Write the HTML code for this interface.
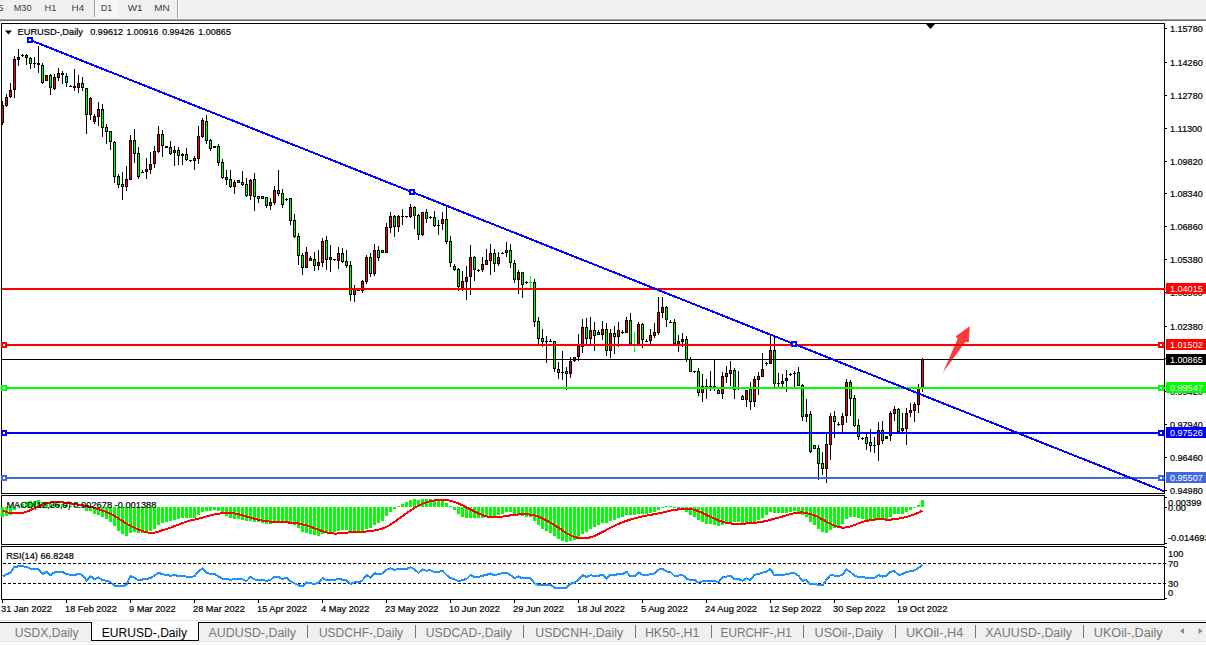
<!DOCTYPE html>
<html><head><meta charset="utf-8"><title>EURUSD-,Daily</title>
<style>
html,body{margin:0;padding:0;background:#fff;}
body{width:1206px;height:645px;overflow:hidden;position:relative;font-family:"Liberation Sans",sans-serif;}
svg{position:absolute;left:0;top:0;display:block}
svg text{font-family:"Liberation Sans",sans-serif;stroke-width:0.2px;}
text.b{stroke:#000}
</style></head><body>
<svg width="1206" height="645" viewBox="0 0 1206 645">
<!-- toolbar -->
<g shape-rendering="crispEdges">
<rect x="0" y="0" width="1206" height="19" fill="#f0f0f0"/>
<rect x="95" y="0" width="24" height="17" fill="#f7f7f7"/>
<rect x="94" y="0" width="1" height="17" fill="#a0a0a0"/>
<rect x="177" y="0" width="1" height="18" fill="#a0a0a0"/><rect x="178" y="0" width="1" height="18" fill="#fff"/>
<rect x="0" y="18" width="1206" height="1" fill="#f4f4f4"/>
<rect x="0" y="19" width="1206" height="1" fill="#a0a0a0"/>
<rect x="0" y="20" width="1206" height="1" fill="#696969"/>
</g>
<g font-size="9.4" fill="#3c3c3c">
<text x="-10" y="11" textLength="13.5" lengthAdjust="spacingAndGlyphs">M5</text><text x="13.7" y="11" textLength="17.8" lengthAdjust="spacingAndGlyphs">M30</text><text x="44.6" y="11" textLength="11.9" lengthAdjust="spacingAndGlyphs">H1</text><text x="71.6" y="11" textLength="12.6" lengthAdjust="spacingAndGlyphs">H4</text><text x="100.9" y="11" textLength="11.4" lengthAdjust="spacingAndGlyphs">D1</text><text x="127.7" y="11" textLength="14.8" lengthAdjust="spacingAndGlyphs">W1</text><text x="154.2" y="11" textLength="15.5" lengthAdjust="spacingAndGlyphs">MN</text>
</g>
<!-- frames -->
<g shape-rendering="crispEdges" fill="none" stroke="#000" stroke-width="1">
<rect x="1.5" y="23.5" width="1163" height="470"/>
<rect x="1.5" y="495.5" width="1163" height="49"/>
<rect x="1.5" y="546.5" width="1163" height="53"/>
</g>
<g shape-rendering="crispEdges">
<rect x="1165" y="28" width="2" height="1" fill="#000"/><rect x="1165" y="62" width="2" height="1" fill="#000"/><rect x="1165" y="95" width="2" height="1" fill="#000"/><rect x="1165" y="128" width="2" height="1" fill="#000"/><rect x="1165" y="161" width="2" height="1" fill="#000"/><rect x="1165" y="193" width="2" height="1" fill="#000"/><rect x="1165" y="226" width="2" height="1" fill="#000"/><rect x="1165" y="259" width="2" height="1" fill="#000"/><rect x="1165" y="292" width="2" height="1" fill="#000"/><rect x="1165" y="326" width="2" height="1" fill="#000"/><rect x="1165" y="358" width="2" height="1" fill="#000"/><rect x="1165" y="391" width="2" height="1" fill="#000"/><rect x="1165" y="424" width="2" height="1" fill="#000"/><rect x="1165" y="457" width="2" height="1" fill="#000"/><rect x="1165" y="490" width="2" height="1" fill="#000"/>
</g>
<!-- candles -->
<g shape-rendering="crispEdges"><rect x="2" y="101" width="1" height="24" fill="#000"/><rect x="1" y="105" width="3" height="18" fill="#000"/><rect x="2" y="106" width="1" height="16" fill="#ff0000"/><rect x="6" y="94" width="1" height="13" fill="#000"/><rect x="5" y="97" width="3" height="9" fill="#000"/><rect x="6" y="98" width="1" height="7" fill="#ff0000"/><rect x="10" y="83" width="1" height="15" fill="#000"/><rect x="9" y="90" width="3" height="7" fill="#000"/><rect x="10" y="91" width="1" height="5" fill="#ff0000"/><rect x="14" y="56" width="1" height="42" fill="#000"/><rect x="13" y="59" width="3" height="31" fill="#000"/><rect x="14" y="60" width="1" height="29" fill="#ff0000"/><rect x="18" y="49" width="1" height="17" fill="#000"/><rect x="17" y="57" width="3" height="3" fill="#000"/><rect x="18" y="58" width="1" height="1" fill="#ff0000"/><rect x="22" y="54" width="1" height="3" fill="#000"/><rect x="21" y="55" width="3" height="1" fill="#000"/><rect x="26" y="54" width="1" height="11" fill="#000"/><rect x="25" y="55" width="3" height="3" fill="#000"/><rect x="26" y="56" width="1" height="1" fill="#00ff00"/><rect x="30" y="57" width="1" height="12" fill="#000"/><rect x="29" y="58" width="3" height="6" fill="#000"/><rect x="30" y="59" width="1" height="4" fill="#00ff00"/><rect x="34" y="57" width="1" height="11" fill="#000"/><rect x="33" y="63" width="3" height="1" fill="#000"/><rect x="38" y="46" width="1" height="27" fill="#000"/><rect x="37" y="63" width="3" height="2" fill="#000"/><rect x="42" y="63" width="1" height="21" fill="#000"/><rect x="41" y="65" width="3" height="18" fill="#000"/><rect x="42" y="66" width="1" height="16" fill="#00ff00"/><rect x="46" y="75" width="1" height="6" fill="#000"/><rect x="45" y="75" width="3" height="6" fill="#000"/><rect x="46" y="76" width="1" height="4" fill="#ff0000"/><rect x="50" y="74" width="1" height="21" fill="#000"/><rect x="49" y="75" width="3" height="13" fill="#000"/><rect x="50" y="76" width="1" height="11" fill="#00ff00"/><rect x="54" y="74" width="1" height="16" fill="#000"/><rect x="53" y="77" width="3" height="12" fill="#000"/><rect x="54" y="78" width="1" height="10" fill="#ff0000"/><rect x="58" y="68" width="1" height="13" fill="#000"/><rect x="57" y="73" width="3" height="5" fill="#000"/><rect x="58" y="74" width="1" height="3" fill="#ff0000"/><rect x="62" y="71" width="1" height="13" fill="#000"/><rect x="61" y="73" width="3" height="2" fill="#000"/><rect x="66" y="73" width="1" height="14" fill="#000"/><rect x="65" y="76" width="3" height="7" fill="#000"/><rect x="66" y="77" width="1" height="5" fill="#00ff00"/><rect x="70" y="85" width="1" height="2" fill="#000"/><rect x="69" y="86" width="3" height="1" fill="#000"/><rect x="74" y="69" width="1" height="22" fill="#000"/><rect x="73" y="86" width="3" height="2" fill="#000"/><rect x="78" y="75" width="1" height="18" fill="#000"/><rect x="77" y="83" width="3" height="5" fill="#000"/><rect x="78" y="84" width="1" height="3" fill="#ff0000"/><rect x="82" y="77" width="1" height="14" fill="#000"/><rect x="81" y="83" width="3" height="5" fill="#000"/><rect x="82" y="84" width="1" height="3" fill="#00ff00"/><rect x="86" y="88" width="1" height="46" fill="#000"/><rect x="85" y="88" width="3" height="27" fill="#000"/><rect x="86" y="89" width="1" height="25" fill="#00ff00"/><rect x="90" y="97" width="1" height="23" fill="#000"/><rect x="89" y="98" width="3" height="17" fill="#000"/><rect x="90" y="99" width="1" height="15" fill="#ff0000"/><rect x="94" y="114" width="1" height="10" fill="#000"/><rect x="93" y="116" width="3" height="6" fill="#000"/><rect x="94" y="117" width="1" height="4" fill="#ff0000"/><rect x="98" y="102" width="1" height="24" fill="#000"/><rect x="97" y="109" width="3" height="8" fill="#000"/><rect x="98" y="110" width="1" height="6" fill="#ff0000"/><rect x="102" y="104" width="1" height="33" fill="#000"/><rect x="101" y="109" width="3" height="19" fill="#000"/><rect x="102" y="110" width="1" height="17" fill="#00ff00"/><rect x="106" y="124" width="1" height="20" fill="#000"/><rect x="105" y="127" width="3" height="5" fill="#000"/><rect x="106" y="128" width="1" height="3" fill="#00ff00"/><rect x="110" y="131" width="1" height="19" fill="#000"/><rect x="109" y="131" width="3" height="11" fill="#000"/><rect x="110" y="132" width="1" height="9" fill="#00ff00"/><rect x="114" y="141" width="1" height="42" fill="#000"/><rect x="113" y="142" width="3" height="35" fill="#000"/><rect x="114" y="143" width="1" height="33" fill="#00ff00"/><rect x="118" y="174" width="1" height="14" fill="#000"/><rect x="117" y="176" width="3" height="9" fill="#000"/><rect x="118" y="177" width="1" height="7" fill="#00ff00"/><rect x="122" y="172" width="1" height="28" fill="#000"/><rect x="121" y="184" width="3" height="3" fill="#000"/><rect x="122" y="185" width="1" height="1" fill="#00ff00"/><rect x="126" y="166" width="1" height="25" fill="#000"/><rect x="125" y="179" width="3" height="8" fill="#000"/><rect x="126" y="180" width="1" height="6" fill="#ff0000"/><rect x="130" y="135" width="1" height="45" fill="#000"/><rect x="129" y="140" width="3" height="40" fill="#000"/><rect x="130" y="141" width="1" height="38" fill="#ff0000"/><rect x="134" y="129" width="1" height="34" fill="#000"/><rect x="133" y="140" width="3" height="14" fill="#000"/><rect x="134" y="141" width="1" height="12" fill="#00ff00"/><rect x="138" y="147" width="1" height="32" fill="#000"/><rect x="137" y="153" width="3" height="24" fill="#000"/><rect x="138" y="154" width="1" height="22" fill="#00ff00"/><rect x="142" y="170" width="1" height="3" fill="#000"/><rect x="141" y="172" width="3" height="1" fill="#000"/><rect x="146" y="158" width="1" height="21" fill="#000"/><rect x="145" y="169" width="3" height="3" fill="#000"/><rect x="146" y="170" width="1" height="1" fill="#ff0000"/><rect x="150" y="152" width="1" height="22" fill="#000"/><rect x="149" y="164" width="3" height="6" fill="#000"/><rect x="150" y="165" width="1" height="4" fill="#ff0000"/><rect x="154" y="146" width="1" height="22" fill="#000"/><rect x="153" y="151" width="3" height="13" fill="#000"/><rect x="154" y="152" width="1" height="11" fill="#ff0000"/><rect x="158" y="126" width="1" height="27" fill="#000"/><rect x="157" y="134" width="3" height="18" fill="#000"/><rect x="158" y="135" width="1" height="16" fill="#ff0000"/><rect x="162" y="130" width="1" height="27" fill="#000"/><rect x="161" y="134" width="3" height="12" fill="#000"/><rect x="162" y="135" width="1" height="10" fill="#00ff00"/><rect x="166" y="146" width="1" height="2" fill="#000"/><rect x="165" y="146" width="3" height="2" fill="#000"/><rect x="170" y="141" width="1" height="14" fill="#000"/><rect x="169" y="147" width="3" height="7" fill="#000"/><rect x="170" y="148" width="1" height="5" fill="#00ff00"/><rect x="174" y="146" width="1" height="20" fill="#000"/><rect x="173" y="150" width="3" height="3" fill="#000"/><rect x="174" y="151" width="1" height="1" fill="#ff0000"/><rect x="178" y="147" width="1" height="18" fill="#000"/><rect x="177" y="150" width="3" height="6" fill="#000"/><rect x="178" y="151" width="1" height="4" fill="#00ff00"/><rect x="182" y="153" width="1" height="12" fill="#000"/><rect x="181" y="154" width="3" height="2" fill="#000"/><rect x="186" y="148" width="1" height="13" fill="#000"/><rect x="185" y="154" width="3" height="6" fill="#000"/><rect x="186" y="155" width="1" height="4" fill="#00ff00"/><rect x="190" y="160" width="1" height="2" fill="#000"/><rect x="189" y="160" width="3" height="1" fill="#000"/><rect x="194" y="156" width="1" height="14" fill="#000"/><rect x="193" y="158" width="3" height="3" fill="#000"/><rect x="194" y="159" width="1" height="1" fill="#ff0000"/><rect x="198" y="126" width="1" height="38" fill="#000"/><rect x="197" y="136" width="3" height="23" fill="#000"/><rect x="198" y="137" width="1" height="21" fill="#ff0000"/><rect x="202" y="118" width="1" height="20" fill="#000"/><rect x="201" y="120" width="3" height="17" fill="#000"/><rect x="202" y="121" width="1" height="15" fill="#ff0000"/><rect x="206" y="115" width="1" height="29" fill="#000"/><rect x="205" y="121" width="3" height="20" fill="#000"/><rect x="206" y="122" width="1" height="18" fill="#00ff00"/><rect x="210" y="139" width="1" height="12" fill="#000"/><rect x="209" y="140" width="3" height="9" fill="#000"/><rect x="210" y="141" width="1" height="7" fill="#00ff00"/><rect x="214" y="146" width="1" height="2" fill="#000"/><rect x="213" y="146" width="3" height="2" fill="#000"/><rect x="218" y="144" width="1" height="22" fill="#000"/><rect x="217" y="146" width="3" height="17" fill="#000"/><rect x="218" y="147" width="1" height="15" fill="#00ff00"/><rect x="222" y="159" width="1" height="20" fill="#000"/><rect x="221" y="162" width="3" height="16" fill="#000"/><rect x="222" y="163" width="1" height="14" fill="#00ff00"/><rect x="226" y="170" width="1" height="15" fill="#000"/><rect x="225" y="177" width="3" height="3" fill="#000"/><rect x="226" y="178" width="1" height="1" fill="#00ff00"/><rect x="230" y="170" width="1" height="18" fill="#000"/><rect x="229" y="179" width="3" height="8" fill="#000"/><rect x="230" y="180" width="1" height="6" fill="#00ff00"/><rect x="234" y="180" width="1" height="14" fill="#000"/><rect x="233" y="182" width="3" height="5" fill="#000"/><rect x="234" y="183" width="1" height="3" fill="#ff0000"/><rect x="238" y="180" width="1" height="3" fill="#000"/><rect x="237" y="180" width="3" height="3" fill="#000"/><rect x="238" y="181" width="1" height="1" fill="#00ff00"/><rect x="242" y="171" width="1" height="15" fill="#000"/><rect x="241" y="182" width="3" height="3" fill="#000"/><rect x="242" y="183" width="1" height="1" fill="#00ff00"/><rect x="246" y="178" width="1" height="19" fill="#000"/><rect x="245" y="184" width="3" height="12" fill="#000"/><rect x="246" y="185" width="1" height="10" fill="#00ff00"/><rect x="250" y="179" width="1" height="21" fill="#000"/><rect x="249" y="180" width="3" height="16" fill="#000"/><rect x="250" y="181" width="1" height="14" fill="#ff0000"/><rect x="254" y="173" width="1" height="38" fill="#000"/><rect x="253" y="179" width="3" height="18" fill="#000"/><rect x="254" y="180" width="1" height="16" fill="#00ff00"/><rect x="258" y="196" width="1" height="7" fill="#000"/><rect x="257" y="196" width="3" height="3" fill="#000"/><rect x="258" y="197" width="1" height="1" fill="#00ff00"/><rect x="262" y="196" width="1" height="3" fill="#000"/><rect x="261" y="196" width="3" height="3" fill="#000"/><rect x="262" y="197" width="1" height="1" fill="#00ff00"/><rect x="266" y="197" width="1" height="11" fill="#000"/><rect x="265" y="197" width="3" height="9" fill="#000"/><rect x="266" y="198" width="1" height="7" fill="#00ff00"/><rect x="270" y="198" width="1" height="12" fill="#000"/><rect x="269" y="202" width="3" height="4" fill="#000"/><rect x="270" y="203" width="1" height="2" fill="#ff0000"/><rect x="274" y="186" width="1" height="19" fill="#000"/><rect x="273" y="190" width="3" height="13" fill="#000"/><rect x="274" y="191" width="1" height="11" fill="#ff0000"/><rect x="278" y="170" width="1" height="26" fill="#000"/><rect x="277" y="190" width="3" height="4" fill="#000"/><rect x="278" y="191" width="1" height="2" fill="#00ff00"/><rect x="282" y="189" width="1" height="19" fill="#000"/><rect x="281" y="193" width="3" height="12" fill="#000"/><rect x="282" y="194" width="1" height="10" fill="#00ff00"/><rect x="286" y="198" width="1" height="3" fill="#000"/><rect x="285" y="199" width="3" height="1" fill="#000"/><rect x="290" y="198" width="1" height="27" fill="#000"/><rect x="289" y="198" width="3" height="23" fill="#000"/><rect x="290" y="199" width="1" height="21" fill="#00ff00"/><rect x="294" y="214" width="1" height="24" fill="#000"/><rect x="293" y="220" width="3" height="17" fill="#000"/><rect x="294" y="221" width="1" height="15" fill="#00ff00"/><rect x="298" y="233" width="1" height="32" fill="#000"/><rect x="297" y="236" width="3" height="20" fill="#000"/><rect x="298" y="237" width="1" height="18" fill="#00ff00"/><rect x="302" y="253" width="1" height="22" fill="#000"/><rect x="301" y="255" width="3" height="13" fill="#000"/><rect x="302" y="256" width="1" height="11" fill="#00ff00"/><rect x="306" y="247" width="1" height="21" fill="#000"/><rect x="305" y="252" width="3" height="16" fill="#000"/><rect x="306" y="253" width="1" height="14" fill="#ff0000"/><rect x="310" y="256" width="1" height="5" fill="#000"/><rect x="309" y="258" width="3" height="3" fill="#000"/><rect x="310" y="259" width="1" height="1" fill="#00ff00"/><rect x="314" y="252" width="1" height="19" fill="#000"/><rect x="313" y="259" width="3" height="7" fill="#000"/><rect x="314" y="260" width="1" height="5" fill="#00ff00"/><rect x="318" y="250" width="1" height="20" fill="#000"/><rect x="317" y="262" width="3" height="4" fill="#000"/><rect x="318" y="263" width="1" height="2" fill="#ff0000"/><rect x="322" y="238" width="1" height="29" fill="#000"/><rect x="321" y="241" width="3" height="22" fill="#000"/><rect x="322" y="242" width="1" height="20" fill="#ff0000"/><rect x="326" y="236" width="1" height="34" fill="#000"/><rect x="325" y="240" width="3" height="20" fill="#000"/><rect x="326" y="241" width="1" height="18" fill="#00ff00"/><rect x="330" y="245" width="1" height="27" fill="#000"/><rect x="329" y="257" width="3" height="3" fill="#000"/><rect x="330" y="258" width="1" height="1" fill="#ff0000"/><rect x="334" y="259" width="1" height="2" fill="#000"/><rect x="333" y="259" width="3" height="1" fill="#000"/><rect x="338" y="247" width="1" height="22" fill="#000"/><rect x="337" y="253" width="3" height="8" fill="#000"/><rect x="338" y="254" width="1" height="6" fill="#ff0000"/><rect x="342" y="248" width="1" height="15" fill="#000"/><rect x="341" y="253" width="3" height="9" fill="#000"/><rect x="342" y="254" width="1" height="7" fill="#00ff00"/><rect x="346" y="250" width="1" height="18" fill="#000"/><rect x="345" y="261" width="3" height="5" fill="#000"/><rect x="346" y="262" width="1" height="3" fill="#00ff00"/><rect x="350" y="261" width="1" height="40" fill="#000"/><rect x="349" y="265" width="3" height="30" fill="#000"/><rect x="350" y="266" width="1" height="28" fill="#00ff00"/><rect x="354" y="285" width="1" height="17" fill="#000"/><rect x="353" y="288" width="3" height="7" fill="#000"/><rect x="354" y="289" width="1" height="5" fill="#ff0000"/><rect x="358" y="289" width="1" height="2" fill="#000"/><rect x="357" y="290" width="3" height="1" fill="#000"/><rect x="362" y="280" width="1" height="13" fill="#000"/><rect x="361" y="281" width="3" height="10" fill="#000"/><rect x="362" y="282" width="1" height="8" fill="#ff0000"/><rect x="366" y="255" width="1" height="29" fill="#000"/><rect x="365" y="257" width="3" height="25" fill="#000"/><rect x="366" y="258" width="1" height="23" fill="#ff0000"/><rect x="370" y="253" width="1" height="24" fill="#000"/><rect x="369" y="257" width="3" height="17" fill="#000"/><rect x="370" y="258" width="1" height="15" fill="#00ff00"/><rect x="374" y="244" width="1" height="32" fill="#000"/><rect x="373" y="250" width="3" height="24" fill="#000"/><rect x="374" y="251" width="1" height="22" fill="#ff0000"/><rect x="378" y="246" width="1" height="15" fill="#000"/><rect x="377" y="250" width="3" height="8" fill="#000"/><rect x="378" y="251" width="1" height="6" fill="#00ff00"/><rect x="382" y="250" width="1" height="3" fill="#000"/><rect x="381" y="250" width="3" height="3" fill="#000"/><rect x="382" y="251" width="1" height="1" fill="#00ff00"/><rect x="386" y="223" width="1" height="30" fill="#000"/><rect x="385" y="227" width="3" height="26" fill="#000"/><rect x="386" y="228" width="1" height="24" fill="#ff0000"/><rect x="390" y="212" width="1" height="21" fill="#000"/><rect x="389" y="216" width="3" height="12" fill="#000"/><rect x="390" y="217" width="1" height="10" fill="#ff0000"/><rect x="394" y="215" width="1" height="22" fill="#000"/><rect x="393" y="216" width="3" height="11" fill="#000"/><rect x="394" y="217" width="1" height="9" fill="#00ff00"/><rect x="398" y="215" width="1" height="17" fill="#000"/><rect x="397" y="216" width="3" height="11" fill="#000"/><rect x="398" y="217" width="1" height="9" fill="#ff0000"/><rect x="402" y="209" width="1" height="16" fill="#000"/><rect x="401" y="216" width="3" height="1" fill="#000"/><rect x="406" y="216" width="1" height="2" fill="#000"/><rect x="405" y="216" width="3" height="1" fill="#000"/><rect x="410" y="204" width="1" height="14" fill="#000"/><rect x="409" y="207" width="3" height="10" fill="#000"/><rect x="410" y="208" width="1" height="8" fill="#ff0000"/><rect x="414" y="206" width="1" height="23" fill="#000"/><rect x="413" y="207" width="3" height="9" fill="#000"/><rect x="414" y="208" width="1" height="7" fill="#00ff00"/><rect x="418" y="214" width="1" height="26" fill="#000"/><rect x="417" y="215" width="3" height="20" fill="#000"/><rect x="418" y="216" width="1" height="18" fill="#00ff00"/><rect x="422" y="212" width="1" height="24" fill="#000"/><rect x="421" y="212" width="3" height="23" fill="#000"/><rect x="422" y="213" width="1" height="21" fill="#ff0000"/><rect x="426" y="209" width="1" height="14" fill="#000"/><rect x="425" y="212" width="3" height="7" fill="#000"/><rect x="426" y="213" width="1" height="5" fill="#00ff00"/><rect x="430" y="216" width="1" height="3" fill="#000"/><rect x="429" y="217" width="3" height="1" fill="#000"/><rect x="434" y="211" width="1" height="16" fill="#000"/><rect x="433" y="217" width="3" height="9" fill="#000"/><rect x="434" y="218" width="1" height="7" fill="#00ff00"/><rect x="438" y="220" width="1" height="15" fill="#000"/><rect x="437" y="225" width="3" height="1" fill="#000"/><rect x="442" y="212" width="1" height="18" fill="#000"/><rect x="441" y="219" width="3" height="5" fill="#000"/><rect x="442" y="220" width="1" height="3" fill="#ff0000"/><rect x="446" y="207" width="1" height="37" fill="#000"/><rect x="445" y="219" width="3" height="23" fill="#000"/><rect x="446" y="220" width="1" height="21" fill="#00ff00"/><rect x="450" y="236" width="1" height="31" fill="#000"/><rect x="449" y="241" width="3" height="22" fill="#000"/><rect x="450" y="242" width="1" height="20" fill="#00ff00"/><rect x="454" y="264" width="1" height="7" fill="#000"/><rect x="453" y="266" width="3" height="4" fill="#000"/><rect x="454" y="267" width="1" height="2" fill="#00ff00"/><rect x="458" y="268" width="1" height="23" fill="#000"/><rect x="457" y="269" width="3" height="18" fill="#000"/><rect x="458" y="270" width="1" height="16" fill="#00ff00"/><rect x="462" y="271" width="1" height="20" fill="#000"/><rect x="461" y="281" width="3" height="7" fill="#000"/><rect x="462" y="282" width="1" height="5" fill="#ff0000"/><rect x="466" y="266" width="1" height="34" fill="#000"/><rect x="465" y="277" width="3" height="5" fill="#000"/><rect x="466" y="278" width="1" height="3" fill="#ff0000"/><rect x="470" y="245" width="1" height="50" fill="#000"/><rect x="469" y="257" width="3" height="20" fill="#000"/><rect x="470" y="258" width="1" height="18" fill="#ff0000"/><rect x="474" y="256" width="1" height="25" fill="#000"/><rect x="473" y="257" width="3" height="13" fill="#000"/><rect x="474" y="258" width="1" height="11" fill="#00ff00"/><rect x="478" y="269" width="1" height="3" fill="#000"/><rect x="477" y="270" width="3" height="1" fill="#000"/><rect x="482" y="257" width="1" height="15" fill="#000"/><rect x="481" y="264" width="3" height="6" fill="#000"/><rect x="482" y="265" width="1" height="4" fill="#ff0000"/><rect x="486" y="249" width="1" height="16" fill="#000"/><rect x="485" y="260" width="3" height="5" fill="#000"/><rect x="486" y="261" width="1" height="3" fill="#ff0000"/><rect x="490" y="244" width="1" height="31" fill="#000"/><rect x="489" y="253" width="3" height="8" fill="#000"/><rect x="490" y="254" width="1" height="6" fill="#ff0000"/><rect x="494" y="249" width="1" height="23" fill="#000"/><rect x="493" y="253" width="3" height="11" fill="#000"/><rect x="494" y="254" width="1" height="9" fill="#00ff00"/><rect x="498" y="252" width="1" height="14" fill="#000"/><rect x="497" y="257" width="3" height="7" fill="#000"/><rect x="498" y="258" width="1" height="5" fill="#ff0000"/><rect x="502" y="252" width="1" height="2" fill="#000"/><rect x="501" y="253" width="3" height="1" fill="#000"/><rect x="506" y="242" width="1" height="15" fill="#000"/><rect x="505" y="250" width="3" height="3" fill="#000"/><rect x="506" y="251" width="1" height="1" fill="#ff0000"/><rect x="510" y="244" width="1" height="24" fill="#000"/><rect x="509" y="250" width="3" height="13" fill="#000"/><rect x="510" y="251" width="1" height="11" fill="#00ff00"/><rect x="514" y="260" width="1" height="23" fill="#000"/><rect x="513" y="263" width="3" height="17" fill="#000"/><rect x="514" y="264" width="1" height="15" fill="#00ff00"/><rect x="518" y="270" width="1" height="24" fill="#000"/><rect x="517" y="272" width="3" height="8" fill="#000"/><rect x="518" y="273" width="1" height="6" fill="#ff0000"/><rect x="522" y="272" width="1" height="26" fill="#000"/><rect x="521" y="272" width="3" height="13" fill="#000"/><rect x="522" y="273" width="1" height="11" fill="#00ff00"/><rect x="526" y="281" width="1" height="3" fill="#000"/><rect x="525" y="282" width="3" height="1" fill="#000"/><rect x="530" y="276" width="1" height="12" fill="#00ff00"/><rect x="529" y="282" width="3" height="1" fill="#00ff00"/><rect x="534" y="279" width="1" height="48" fill="#000"/><rect x="533" y="282" width="3" height="40" fill="#000"/><rect x="534" y="283" width="1" height="38" fill="#00ff00"/><rect x="538" y="317" width="1" height="27" fill="#000"/><rect x="537" y="321" width="3" height="18" fill="#000"/><rect x="538" y="322" width="1" height="16" fill="#00ff00"/><rect x="542" y="329" width="1" height="18" fill="#000"/><rect x="541" y="338" width="3" height="4" fill="#000"/><rect x="542" y="339" width="1" height="2" fill="#00ff00"/><rect x="546" y="336" width="1" height="27" fill="#000"/><rect x="545" y="341" width="3" height="1" fill="#000"/><rect x="550" y="339" width="1" height="3" fill="#000"/><rect x="549" y="341" width="3" height="1" fill="#000"/><rect x="554" y="341" width="1" height="31" fill="#000"/><rect x="553" y="341" width="3" height="28" fill="#000"/><rect x="554" y="342" width="1" height="26" fill="#00ff00"/><rect x="558" y="362" width="1" height="17" fill="#000"/><rect x="557" y="369" width="3" height="4" fill="#000"/><rect x="558" y="370" width="1" height="2" fill="#00ff00"/><rect x="562" y="351" width="1" height="29" fill="#000"/><rect x="561" y="372" width="3" height="1" fill="#000"/><rect x="566" y="367" width="1" height="23" fill="#000"/><rect x="565" y="371" width="3" height="3" fill="#000"/><rect x="566" y="372" width="1" height="1" fill="#00ff00"/><rect x="570" y="357" width="1" height="21" fill="#000"/><rect x="569" y="361" width="3" height="13" fill="#000"/><rect x="570" y="362" width="1" height="11" fill="#ff0000"/><rect x="574" y="357" width="1" height="5" fill="#000"/><rect x="573" y="357" width="3" height="4" fill="#000"/><rect x="574" y="358" width="1" height="2" fill="#ff0000"/><rect x="578" y="334" width="1" height="27" fill="#000"/><rect x="577" y="346" width="3" height="11" fill="#000"/><rect x="578" y="347" width="1" height="9" fill="#ff0000"/><rect x="582" y="319" width="1" height="34" fill="#000"/><rect x="581" y="327" width="3" height="20" fill="#000"/><rect x="582" y="328" width="1" height="18" fill="#ff0000"/><rect x="586" y="318" width="1" height="26" fill="#000"/><rect x="585" y="327" width="3" height="12" fill="#000"/><rect x="586" y="328" width="1" height="10" fill="#00ff00"/><rect x="590" y="317" width="1" height="27" fill="#000"/><rect x="589" y="330" width="3" height="9" fill="#000"/><rect x="590" y="331" width="1" height="7" fill="#ff0000"/><rect x="594" y="322" width="1" height="29" fill="#000"/><rect x="593" y="330" width="3" height="6" fill="#000"/><rect x="594" y="331" width="1" height="4" fill="#00ff00"/><rect x="598" y="330" width="1" height="5" fill="#000"/><rect x="597" y="332" width="3" height="3" fill="#000"/><rect x="598" y="333" width="1" height="1" fill="#00ff00"/><rect x="602" y="321" width="1" height="19" fill="#000"/><rect x="601" y="329" width="3" height="6" fill="#000"/><rect x="602" y="330" width="1" height="4" fill="#ff0000"/><rect x="606" y="323" width="1" height="33" fill="#000"/><rect x="605" y="329" width="3" height="22" fill="#000"/><rect x="606" y="330" width="1" height="20" fill="#00ff00"/><rect x="610" y="329" width="1" height="29" fill="#000"/><rect x="609" y="333" width="3" height="18" fill="#000"/><rect x="610" y="334" width="1" height="16" fill="#ff0000"/><rect x="614" y="326" width="1" height="28" fill="#000"/><rect x="613" y="333" width="3" height="4" fill="#000"/><rect x="614" y="334" width="1" height="2" fill="#00ff00"/><rect x="618" y="322" width="1" height="25" fill="#000"/><rect x="617" y="330" width="3" height="7" fill="#000"/><rect x="618" y="331" width="1" height="5" fill="#ff0000"/><rect x="622" y="330" width="1" height="4" fill="#000"/><rect x="621" y="332" width="3" height="1" fill="#000"/><rect x="626" y="317" width="1" height="16" fill="#000"/><rect x="625" y="320" width="3" height="13" fill="#000"/><rect x="626" y="321" width="1" height="11" fill="#ff0000"/><rect x="630" y="313" width="1" height="31" fill="#000"/><rect x="629" y="320" width="3" height="24" fill="#000"/><rect x="630" y="321" width="1" height="22" fill="#00ff00"/><rect x="634" y="332" width="1" height="20" fill="#00ff00"/><rect x="633" y="344" width="3" height="1" fill="#00ff00"/><rect x="638" y="322" width="1" height="22" fill="#000"/><rect x="637" y="324" width="3" height="20" fill="#000"/><rect x="638" y="325" width="1" height="18" fill="#ff0000"/><rect x="642" y="323" width="1" height="25" fill="#000"/><rect x="641" y="324" width="3" height="16" fill="#000"/><rect x="642" y="325" width="1" height="14" fill="#00ff00"/><rect x="646" y="339" width="1" height="3" fill="#000"/><rect x="645" y="341" width="3" height="1" fill="#000"/><rect x="650" y="329" width="1" height="15" fill="#000"/><rect x="649" y="335" width="3" height="6" fill="#000"/><rect x="650" y="336" width="1" height="4" fill="#ff0000"/><rect x="654" y="323" width="1" height="15" fill="#000"/><rect x="653" y="332" width="3" height="4" fill="#000"/><rect x="654" y="333" width="1" height="2" fill="#ff0000"/><rect x="658" y="297" width="1" height="38" fill="#000"/><rect x="657" y="312" width="3" height="21" fill="#000"/><rect x="658" y="313" width="1" height="19" fill="#ff0000"/><rect x="662" y="297" width="1" height="21" fill="#000"/><rect x="661" y="307" width="3" height="6" fill="#000"/><rect x="662" y="308" width="1" height="4" fill="#ff0000"/><rect x="666" y="306" width="1" height="21" fill="#000"/><rect x="665" y="307" width="3" height="13" fill="#000"/><rect x="666" y="308" width="1" height="11" fill="#00ff00"/><rect x="670" y="320" width="1" height="3" fill="#000"/><rect x="669" y="322" width="3" height="1" fill="#000"/><rect x="674" y="319" width="1" height="25" fill="#000"/><rect x="673" y="322" width="3" height="22" fill="#000"/><rect x="674" y="323" width="1" height="20" fill="#00ff00"/><rect x="678" y="335" width="1" height="17" fill="#000"/><rect x="677" y="341" width="3" height="3" fill="#000"/><rect x="678" y="342" width="1" height="1" fill="#ff0000"/><rect x="682" y="333" width="1" height="14" fill="#000"/><rect x="681" y="339" width="3" height="3" fill="#000"/><rect x="682" y="340" width="1" height="1" fill="#ff0000"/><rect x="686" y="336" width="1" height="26" fill="#000"/><rect x="685" y="339" width="3" height="21" fill="#000"/><rect x="686" y="340" width="1" height="19" fill="#00ff00"/><rect x="690" y="357" width="1" height="15" fill="#000"/><rect x="689" y="359" width="3" height="13" fill="#000"/><rect x="690" y="360" width="1" height="11" fill="#00ff00"/><rect x="694" y="371" width="1" height="2" fill="#000"/><rect x="693" y="371" width="3" height="1" fill="#000"/><rect x="698" y="368" width="1" height="28" fill="#000"/><rect x="697" y="371" width="3" height="22" fill="#000"/><rect x="698" y="372" width="1" height="20" fill="#00ff00"/><rect x="702" y="374" width="1" height="28" fill="#000"/><rect x="701" y="386" width="3" height="7" fill="#000"/><rect x="702" y="387" width="1" height="5" fill="#ff0000"/><rect x="706" y="379" width="1" height="20" fill="#000"/><rect x="705" y="386" width="3" height="1" fill="#000"/><rect x="710" y="371" width="1" height="20" fill="#000"/><rect x="709" y="386" width="3" height="1" fill="#000"/><rect x="714" y="359" width="1" height="32" fill="#000"/><rect x="713" y="386" width="3" height="1" fill="#000"/><rect x="718" y="389" width="1" height="5" fill="#000"/><rect x="717" y="390" width="3" height="4" fill="#000"/><rect x="718" y="391" width="1" height="2" fill="#00ff00"/><rect x="722" y="372" width="1" height="27" fill="#000"/><rect x="721" y="376" width="3" height="18" fill="#000"/><rect x="722" y="377" width="1" height="16" fill="#ff0000"/><rect x="726" y="366" width="1" height="17" fill="#000"/><rect x="725" y="373" width="3" height="4" fill="#000"/><rect x="726" y="374" width="1" height="2" fill="#ff0000"/><rect x="730" y="361" width="1" height="25" fill="#000"/><rect x="729" y="370" width="3" height="4" fill="#000"/><rect x="730" y="371" width="1" height="2" fill="#ff0000"/><rect x="734" y="368" width="1" height="31" fill="#000"/><rect x="733" y="370" width="3" height="20" fill="#000"/><rect x="734" y="371" width="1" height="18" fill="#00ff00"/><rect x="738" y="371" width="1" height="19" fill="#000"/><rect x="737" y="388" width="3" height="1" fill="#000"/><rect x="742" y="395" width="1" height="5" fill="#000"/><rect x="741" y="396" width="3" height="4" fill="#000"/><rect x="742" y="397" width="1" height="2" fill="#00ff00"/><rect x="746" y="390" width="1" height="17" fill="#000"/><rect x="745" y="390" width="3" height="10" fill="#000"/><rect x="746" y="391" width="1" height="8" fill="#ff0000"/><rect x="750" y="382" width="1" height="28" fill="#000"/><rect x="749" y="389" width="3" height="13" fill="#000"/><rect x="750" y="390" width="1" height="11" fill="#00ff00"/><rect x="754" y="376" width="1" height="31" fill="#000"/><rect x="753" y="379" width="3" height="23" fill="#000"/><rect x="754" y="380" width="1" height="21" fill="#ff0000"/><rect x="758" y="372" width="1" height="23" fill="#000"/><rect x="757" y="376" width="3" height="4" fill="#000"/><rect x="758" y="377" width="1" height="2" fill="#ff0000"/><rect x="762" y="353" width="1" height="24" fill="#000"/><rect x="761" y="369" width="3" height="8" fill="#000"/><rect x="762" y="370" width="1" height="6" fill="#ff0000"/><rect x="766" y="362" width="1" height="4" fill="#000"/><rect x="765" y="363" width="3" height="1" fill="#000"/><rect x="770" y="336" width="1" height="28" fill="#000"/><rect x="769" y="350" width="3" height="14" fill="#000"/><rect x="770" y="351" width="1" height="12" fill="#ff0000"/><rect x="774" y="337" width="1" height="50" fill="#000"/><rect x="773" y="350" width="3" height="34" fill="#000"/><rect x="774" y="351" width="1" height="32" fill="#00ff00"/><rect x="778" y="373" width="1" height="14" fill="#000"/><rect x="777" y="383" width="3" height="1" fill="#000"/><rect x="782" y="374" width="1" height="13" fill="#000"/><rect x="781" y="381" width="3" height="3" fill="#000"/><rect x="782" y="382" width="1" height="1" fill="#ff0000"/><rect x="786" y="370" width="1" height="22" fill="#000"/><rect x="785" y="378" width="3" height="3" fill="#000"/><rect x="786" y="379" width="1" height="1" fill="#ff0000"/><rect x="790" y="373" width="1" height="3" fill="#000"/><rect x="789" y="374" width="3" height="1" fill="#000"/><rect x="794" y="371" width="1" height="16" fill="#000"/><rect x="793" y="373" width="3" height="1" fill="#000"/><rect x="798" y="367" width="1" height="19" fill="#000"/><rect x="797" y="372" width="3" height="14" fill="#000"/><rect x="798" y="373" width="1" height="12" fill="#00ff00"/><rect x="802" y="384" width="1" height="37" fill="#000"/><rect x="801" y="385" width="3" height="32" fill="#000"/><rect x="802" y="386" width="1" height="30" fill="#00ff00"/><rect x="806" y="399" width="1" height="23" fill="#000"/><rect x="805" y="414" width="3" height="3" fill="#000"/><rect x="806" y="415" width="1" height="1" fill="#ff0000"/><rect x="810" y="411" width="1" height="42" fill="#000"/><rect x="809" y="414" width="3" height="38" fill="#000"/><rect x="810" y="415" width="1" height="36" fill="#00ff00"/><rect x="814" y="445" width="1" height="4" fill="#000"/><rect x="813" y="445" width="3" height="4" fill="#000"/><rect x="814" y="446" width="1" height="2" fill="#00ff00"/><rect x="818" y="445" width="1" height="35" fill="#000"/><rect x="817" y="448" width="3" height="16" fill="#000"/><rect x="818" y="449" width="1" height="14" fill="#00ff00"/><rect x="822" y="452" width="1" height="23" fill="#000"/><rect x="821" y="463" width="3" height="6" fill="#000"/><rect x="822" y="464" width="1" height="4" fill="#00ff00"/><rect x="826" y="434" width="1" height="49" fill="#000"/><rect x="825" y="444" width="3" height="25" fill="#000"/><rect x="826" y="445" width="1" height="23" fill="#ff0000"/><rect x="830" y="413" width="1" height="47" fill="#000"/><rect x="829" y="416" width="3" height="29" fill="#000"/><rect x="830" y="417" width="1" height="27" fill="#ff0000"/><rect x="834" y="411" width="1" height="27" fill="#000"/><rect x="833" y="416" width="3" height="6" fill="#000"/><rect x="834" y="417" width="1" height="4" fill="#00ff00"/><rect x="838" y="422" width="1" height="4" fill="#000"/><rect x="837" y="424" width="3" height="1" fill="#000"/><rect x="842" y="413" width="1" height="19" fill="#000"/><rect x="841" y="416" width="3" height="9" fill="#000"/><rect x="842" y="417" width="1" height="7" fill="#ff0000"/><rect x="846" y="379" width="1" height="44" fill="#000"/><rect x="845" y="382" width="3" height="34" fill="#000"/><rect x="846" y="383" width="1" height="32" fill="#ff0000"/><rect x="850" y="380" width="1" height="36" fill="#000"/><rect x="849" y="382" width="3" height="17" fill="#000"/><rect x="850" y="383" width="1" height="15" fill="#00ff00"/><rect x="854" y="395" width="1" height="32" fill="#000"/><rect x="853" y="398" width="3" height="28" fill="#000"/><rect x="854" y="399" width="1" height="26" fill="#00ff00"/><rect x="858" y="419" width="1" height="21" fill="#000"/><rect x="857" y="425" width="3" height="12" fill="#000"/><rect x="858" y="426" width="1" height="10" fill="#00ff00"/><rect x="862" y="437" width="1" height="3" fill="#000"/><rect x="861" y="438" width="3" height="1" fill="#000"/><rect x="866" y="434" width="1" height="16" fill="#000"/><rect x="865" y="437" width="3" height="7" fill="#000"/><rect x="866" y="438" width="1" height="5" fill="#00ff00"/><rect x="870" y="429" width="1" height="23" fill="#000"/><rect x="869" y="442" width="3" height="4" fill="#000"/><rect x="870" y="443" width="1" height="2" fill="#00ff00"/><rect x="874" y="437" width="1" height="16" fill="#000"/><rect x="873" y="445" width="3" height="1" fill="#000"/><rect x="878" y="422" width="1" height="39" fill="#000"/><rect x="877" y="430" width="3" height="15" fill="#000"/><rect x="878" y="431" width="1" height="13" fill="#ff0000"/><rect x="882" y="421" width="1" height="23" fill="#000"/><rect x="881" y="430" width="3" height="11" fill="#000"/><rect x="882" y="431" width="1" height="9" fill="#00ff00"/><rect x="886" y="436" width="1" height="3" fill="#000"/><rect x="885" y="436" width="3" height="3" fill="#000"/><rect x="886" y="437" width="1" height="1" fill="#ff0000"/><rect x="890" y="411" width="1" height="30" fill="#000"/><rect x="889" y="413" width="3" height="23" fill="#000"/><rect x="890" y="414" width="1" height="21" fill="#ff0000"/><rect x="894" y="406" width="1" height="15" fill="#000"/><rect x="893" y="409" width="3" height="5" fill="#000"/><rect x="894" y="410" width="1" height="3" fill="#ff0000"/><rect x="898" y="408" width="1" height="24" fill="#000"/><rect x="897" y="409" width="3" height="23" fill="#000"/><rect x="898" y="410" width="1" height="21" fill="#00ff00"/><rect x="902" y="413" width="1" height="19" fill="#000"/><rect x="901" y="428" width="3" height="3" fill="#000"/><rect x="902" y="429" width="1" height="1" fill="#ff0000"/><rect x="906" y="408" width="1" height="37" fill="#000"/><rect x="905" y="413" width="3" height="16" fill="#000"/><rect x="906" y="414" width="1" height="14" fill="#ff0000"/><rect x="910" y="403" width="1" height="14" fill="#000"/><rect x="909" y="410" width="3" height="3" fill="#000"/><rect x="910" y="411" width="1" height="1" fill="#ff0000"/><rect x="914" y="402" width="1" height="20" fill="#000"/><rect x="913" y="404" width="3" height="7" fill="#000"/><rect x="914" y="405" width="1" height="5" fill="#ff0000"/><rect x="918" y="384" width="1" height="29" fill="#000"/><rect x="917" y="388" width="3" height="17" fill="#000"/><rect x="918" y="389" width="1" height="15" fill="#ff0000"/><rect x="922" y="358" width="1" height="34" fill="#000"/><rect x="921" y="359" width="3" height="29" fill="#000"/><rect x="922" y="360" width="1" height="27" fill="#ff0000"/></g>
<!-- arrow -->
<polygon points="943,372.5 957.7,338.7 955.7,336.2 969.8,326.3 968.8,342.3 965.3,342" fill="#ff3a3a"/>
<!-- horizontal lines -->
<g shape-rendering="crispEdges">
<rect x="2" y="288" width="1163" height="2" fill="#ff0000"/>
<rect x="2" y="344" width="1163" height="2" fill="#ff0000"/>
<rect x="2" y="359" width="1163" height="1" fill="#000"/>
<rect x="2" y="387" width="1163" height="2" fill="#00ff00"/>
<rect x="2" y="432" width="1163" height="2" fill="#0000ff"/>
<rect x="2" y="477" width="1163" height="2" fill="#4169e1"/>
</g>
<!-- handles -->
<g shape-rendering="crispEdges" fill="#fff" stroke-width="2">
<rect x="2" y="343" width="4" height="4" stroke="#ff0000"/><rect x="1159" y="343" width="4" height="4" stroke="#ff0000"/>
<rect x="2" y="386" width="4" height="4" stroke="#00ff00"/><rect x="1159" y="386" width="4" height="4" stroke="#00ff00"/>
<rect x="2" y="431" width="4" height="4" stroke="#0000ff"/><rect x="1159" y="431" width="4" height="4" stroke="#0000ff"/>
<rect x="2" y="476" width="4" height="4" stroke="#4169e1"/><rect x="1159" y="476" width="4" height="4" stroke="#4169e1"/>
</g>
<!-- trend line -->
<line x1="30" y1="40" x2="1164" y2="491.2" stroke="#0000ff" stroke-width="2" shape-rendering="crispEdges"/>
<g shape-rendering="crispEdges" fill="#fff" stroke-width="2" stroke="#0000ff">
<rect x="28" y="38" width="4" height="4"/><rect x="410" y="190" width="4" height="4"/><rect x="792" y="342" width="4" height="4"/>
</g>
<!-- shift marker -->
<polygon points="926,24 935,24 930.5,29" fill="#000"/>
<!-- price labels -->
<text class="b" transform="translate(1170,32.3) scale(0.965,1)" font-size="9.4" fill="#000">1.15780</text><text class="b" transform="translate(1170,66.3) scale(0.965,1)" font-size="9.4" fill="#000">1.14260</text><text class="b" transform="translate(1170,99.3) scale(0.965,1)" font-size="9.4" fill="#000">1.12780</text><text class="b" transform="translate(1170,132.3) scale(0.965,1)" font-size="9.4" fill="#000">1.11300</text><text class="b" transform="translate(1170,165.3) scale(0.965,1)" font-size="9.4" fill="#000">1.09820</text><text class="b" transform="translate(1170,197.3) scale(0.965,1)" font-size="9.4" fill="#000">1.08340</text><text class="b" transform="translate(1170,230.3) scale(0.965,1)" font-size="9.4" fill="#000">1.06860</text><text class="b" transform="translate(1170,263.3) scale(0.965,1)" font-size="9.4" fill="#000">1.05380</text><text class="b" transform="translate(1170,296.3) scale(0.965,1)" font-size="9.4" fill="#000">1.03900</text><text class="b" transform="translate(1170,330.3) scale(0.965,1)" font-size="9.4" fill="#000">1.02380</text><text class="b" transform="translate(1170,362.3) scale(0.965,1)" font-size="9.4" fill="#000">1.00900</text><text class="b" transform="translate(1170,395.3) scale(0.965,1)" font-size="9.4" fill="#000">0.99420</text><text class="b" transform="translate(1170,428.3) scale(0.965,1)" font-size="9.4" fill="#000">0.97940</text><text class="b" transform="translate(1170,461.3) scale(0.965,1)" font-size="9.4" fill="#000">0.96460</text><text class="b" transform="translate(1170,494.3) scale(0.965,1)" font-size="9.4" fill="#000">0.94980</text>
<!-- labels boxes -->
<g shape-rendering="crispEdges"><rect x="1166" y="283" width="40" height="11" fill="#ff0000"/><rect x="1166" y="339" width="40" height="11" fill="#ff0000"/><rect x="1166" y="354" width="40" height="11" fill="#000000"/><rect x="1166" y="382" width="40" height="11" fill="#00ff00"/><rect x="1166" y="427" width="40" height="11" fill="#0000ff"/><rect x="1166" y="472" width="40" height="11" fill="#4169e1"/></g>
<text class="w" transform="translate(1170,292) scale(0.965,1)" font-size="9.4" fill="#fff">1.04015</text><text class="w" transform="translate(1170,348) scale(0.965,1)" font-size="9.4" fill="#fff">1.01502</text><text class="w" transform="translate(1170,363) scale(0.965,1)" font-size="9.4" fill="#fff">1.00865</text><text class="w" transform="translate(1170,391) scale(0.965,1)" font-size="9.4" fill="#fff">0.99547</text><text class="w" transform="translate(1170,436) scale(0.965,1)" font-size="9.4" fill="#fff">0.97526</text><text class="w" transform="translate(1170,481) scale(0.965,1)" font-size="9.4" fill="#fff">0.95507</text>
<!-- header -->
<polygon points="5,30.5 12,30.5 8.5,34.5" fill="#000"/>
<text class="b" x="17.5" y="34.7" font-size="9.4" textLength="65.5" lengthAdjust="spacingAndGlyphs">EURUSD-,Daily</text>
<text class="b" x="90.3" y="34.7" font-size="9.4" textLength="32.8" lengthAdjust="spacingAndGlyphs">0.99612</text>
<text class="b" x="126.5" y="34.7" font-size="9.4" textLength="31.8" lengthAdjust="spacingAndGlyphs">1.00916</text>
<text class="b" x="162.2" y="34.7" font-size="9.4" textLength="32.1" lengthAdjust="spacingAndGlyphs">0.99426</text>
<text class="b" x="198.3" y="34.7" font-size="9.4" textLength="32.6" lengthAdjust="spacingAndGlyphs">1.00865</text>
<!-- MACD -->
<g shape-rendering="crispEdges"><rect x="1" y="507" width="3" height="10" fill="#00ff00"/><rect x="5" y="507" width="3" height="9" fill="#00ff00"/><rect x="9" y="507" width="3" height="8" fill="#00ff00"/><rect x="13" y="507" width="3" height="3" fill="#00ff00"/><rect x="17" y="506" width="3" height="1" fill="#00ff00"/><rect x="21" y="504" width="3" height="3" fill="#00ff00"/><rect x="25" y="502" width="3" height="5" fill="#00ff00"/><rect x="29" y="501" width="3" height="6" fill="#00ff00"/><rect x="33" y="501" width="3" height="6" fill="#00ff00"/><rect x="37" y="500" width="3" height="7" fill="#00ff00"/><rect x="41" y="502" width="3" height="5" fill="#00ff00"/><rect x="45" y="502" width="3" height="5" fill="#00ff00"/><rect x="49" y="504" width="3" height="3" fill="#00ff00"/><rect x="53" y="504" width="3" height="3" fill="#00ff00"/><rect x="57" y="504" width="3" height="3" fill="#00ff00"/><rect x="61" y="504" width="3" height="3" fill="#00ff00"/><rect x="65" y="505" width="3" height="2" fill="#00ff00"/><rect x="69" y="506" width="3" height="1" fill="#00ff00"/><rect x="73" y="506" width="3" height="1" fill="#00ff00"/><rect x="77" y="507" width="3" height="1" fill="#00ff00"/><rect x="81" y="507" width="3" height="1" fill="#00ff00"/><rect x="85" y="507" width="3" height="4" fill="#00ff00"/><rect x="89" y="507" width="3" height="4" fill="#00ff00"/><rect x="93" y="507" width="3" height="7" fill="#00ff00"/><rect x="97" y="507" width="3" height="8" fill="#00ff00"/><rect x="101" y="507" width="3" height="10" fill="#00ff00"/><rect x="105" y="507" width="3" height="12" fill="#00ff00"/><rect x="109" y="507" width="3" height="15" fill="#00ff00"/><rect x="113" y="507" width="3" height="19" fill="#00ff00"/><rect x="117" y="507" width="3" height="24" fill="#00ff00"/><rect x="121" y="507" width="3" height="27" fill="#00ff00"/><rect x="125" y="507" width="3" height="29" fill="#00ff00"/><rect x="129" y="507" width="3" height="26" fill="#00ff00"/><rect x="133" y="507" width="3" height="25" fill="#00ff00"/><rect x="137" y="507" width="3" height="26" fill="#00ff00"/><rect x="141" y="507" width="3" height="26" fill="#00ff00"/><rect x="145" y="507" width="3" height="25" fill="#00ff00"/><rect x="149" y="507" width="3" height="24" fill="#00ff00"/><rect x="153" y="507" width="3" height="22" fill="#00ff00"/><rect x="157" y="507" width="3" height="18" fill="#00ff00"/><rect x="161" y="507" width="3" height="16" fill="#00ff00"/><rect x="165" y="507" width="3" height="15" fill="#00ff00"/><rect x="169" y="507" width="3" height="14" fill="#00ff00"/><rect x="173" y="507" width="3" height="13" fill="#00ff00"/><rect x="177" y="507" width="3" height="12" fill="#00ff00"/><rect x="181" y="507" width="3" height="11" fill="#00ff00"/><rect x="185" y="507" width="3" height="11" fill="#00ff00"/><rect x="189" y="507" width="3" height="11" fill="#00ff00"/><rect x="193" y="507" width="3" height="11" fill="#00ff00"/><rect x="197" y="507" width="3" height="8" fill="#00ff00"/><rect x="201" y="507" width="3" height="5" fill="#00ff00"/><rect x="205" y="507" width="3" height="4" fill="#00ff00"/><rect x="209" y="507" width="3" height="4" fill="#00ff00"/><rect x="213" y="507" width="3" height="3" fill="#00ff00"/><rect x="217" y="507" width="3" height="4" fill="#00ff00"/><rect x="221" y="507" width="3" height="7" fill="#00ff00"/><rect x="225" y="507" width="3" height="9" fill="#00ff00"/><rect x="229" y="507" width="3" height="11" fill="#00ff00"/><rect x="233" y="507" width="3" height="12" fill="#00ff00"/><rect x="237" y="507" width="3" height="12" fill="#00ff00"/><rect x="241" y="507" width="3" height="13" fill="#00ff00"/><rect x="245" y="507" width="3" height="14" fill="#00ff00"/><rect x="249" y="507" width="3" height="14" fill="#00ff00"/><rect x="253" y="507" width="3" height="15" fill="#00ff00"/><rect x="257" y="507" width="3" height="15" fill="#00ff00"/><rect x="261" y="507" width="3" height="16" fill="#00ff00"/><rect x="265" y="507" width="3" height="17" fill="#00ff00"/><rect x="269" y="507" width="3" height="17" fill="#00ff00"/><rect x="273" y="507" width="3" height="16" fill="#00ff00"/><rect x="277" y="507" width="3" height="15" fill="#00ff00"/><rect x="281" y="507" width="3" height="15" fill="#00ff00"/><rect x="285" y="507" width="3" height="14" fill="#00ff00"/><rect x="289" y="507" width="3" height="16" fill="#00ff00"/><rect x="293" y="507" width="3" height="18" fill="#00ff00"/><rect x="297" y="507" width="3" height="21" fill="#00ff00"/><rect x="301" y="507" width="3" height="25" fill="#00ff00"/><rect x="305" y="507" width="3" height="26" fill="#00ff00"/><rect x="309" y="507" width="3" height="27" fill="#00ff00"/><rect x="313" y="507" width="3" height="28" fill="#00ff00"/><rect x="317" y="507" width="3" height="29" fill="#00ff00"/><rect x="321" y="507" width="3" height="27" fill="#00ff00"/><rect x="325" y="507" width="3" height="26" fill="#00ff00"/><rect x="329" y="507" width="3" height="26" fill="#00ff00"/><rect x="333" y="507" width="3" height="25" fill="#00ff00"/><rect x="337" y="507" width="3" height="24" fill="#00ff00"/><rect x="341" y="507" width="3" height="23" fill="#00ff00"/><rect x="345" y="507" width="3" height="23" fill="#00ff00"/><rect x="349" y="507" width="3" height="25" fill="#00ff00"/><rect x="353" y="507" width="3" height="26" fill="#00ff00"/><rect x="357" y="507" width="3" height="26" fill="#00ff00"/><rect x="361" y="507" width="3" height="26" fill="#00ff00"/><rect x="365" y="507" width="3" height="22" fill="#00ff00"/><rect x="369" y="507" width="3" height="21" fill="#00ff00"/><rect x="373" y="507" width="3" height="18" fill="#00ff00"/><rect x="377" y="507" width="3" height="16" fill="#00ff00"/><rect x="381" y="507" width="3" height="14" fill="#00ff00"/><rect x="385" y="507" width="3" height="9" fill="#00ff00"/><rect x="389" y="507" width="3" height="5" fill="#00ff00"/><rect x="393" y="507" width="3" height="2" fill="#00ff00"/><rect x="397" y="506" width="3" height="1" fill="#00ff00"/><rect x="401" y="504" width="3" height="3" fill="#00ff00"/><rect x="405" y="502" width="3" height="5" fill="#00ff00"/><rect x="409" y="500" width="3" height="7" fill="#00ff00"/><rect x="413" y="499" width="3" height="8" fill="#00ff00"/><rect x="417" y="500" width="3" height="7" fill="#00ff00"/><rect x="421" y="499" width="3" height="8" fill="#00ff00"/><rect x="425" y="499" width="3" height="8" fill="#00ff00"/><rect x="429" y="499" width="3" height="8" fill="#00ff00"/><rect x="433" y="500" width="3" height="7" fill="#00ff00"/><rect x="437" y="500" width="3" height="7" fill="#00ff00"/><rect x="441" y="500" width="3" height="7" fill="#00ff00"/><rect x="445" y="503" width="3" height="4" fill="#00ff00"/><rect x="449" y="506" width="3" height="1" fill="#00ff00"/><rect x="453" y="507" width="3" height="3" fill="#00ff00"/><rect x="457" y="507" width="3" height="7" fill="#00ff00"/><rect x="461" y="507" width="3" height="10" fill="#00ff00"/><rect x="465" y="507" width="3" height="11" fill="#00ff00"/><rect x="469" y="507" width="3" height="11" fill="#00ff00"/><rect x="473" y="507" width="3" height="11" fill="#00ff00"/><rect x="477" y="507" width="3" height="11" fill="#00ff00"/><rect x="481" y="507" width="3" height="11" fill="#00ff00"/><rect x="485" y="507" width="3" height="10" fill="#00ff00"/><rect x="489" y="507" width="3" height="9" fill="#00ff00"/><rect x="493" y="507" width="3" height="9" fill="#00ff00"/><rect x="497" y="507" width="3" height="8" fill="#00ff00"/><rect x="501" y="507" width="3" height="7" fill="#00ff00"/><rect x="505" y="507" width="3" height="5" fill="#00ff00"/><rect x="509" y="507" width="3" height="5" fill="#00ff00"/><rect x="513" y="507" width="3" height="7" fill="#00ff00"/><rect x="517" y="507" width="3" height="7" fill="#00ff00"/><rect x="521" y="507" width="3" height="9" fill="#00ff00"/><rect x="525" y="507" width="3" height="10" fill="#00ff00"/><rect x="529" y="507" width="3" height="10" fill="#00ff00"/><rect x="533" y="507" width="3" height="14" fill="#00ff00"/><rect x="537" y="507" width="3" height="18" fill="#00ff00"/><rect x="541" y="507" width="3" height="22" fill="#00ff00"/><rect x="545" y="507" width="3" height="24" fill="#00ff00"/><rect x="549" y="507" width="3" height="26" fill="#00ff00"/><rect x="553" y="507" width="3" height="29" fill="#00ff00"/><rect x="557" y="507" width="3" height="32" fill="#00ff00"/><rect x="561" y="507" width="3" height="34" fill="#00ff00"/><rect x="565" y="507" width="3" height="35" fill="#00ff00"/><rect x="569" y="507" width="3" height="34" fill="#00ff00"/><rect x="573" y="507" width="3" height="33" fill="#00ff00"/><rect x="577" y="507" width="3" height="31" fill="#00ff00"/><rect x="581" y="507" width="3" height="27" fill="#00ff00"/><rect x="585" y="507" width="3" height="25" fill="#00ff00"/><rect x="589" y="507" width="3" height="22" fill="#00ff00"/><rect x="593" y="507" width="3" height="20" fill="#00ff00"/><rect x="597" y="507" width="3" height="18" fill="#00ff00"/><rect x="601" y="507" width="3" height="16" fill="#00ff00"/><rect x="605" y="507" width="3" height="16" fill="#00ff00"/><rect x="609" y="507" width="3" height="14" fill="#00ff00"/><rect x="613" y="507" width="3" height="13" fill="#00ff00"/><rect x="617" y="507" width="3" height="11" fill="#00ff00"/><rect x="621" y="507" width="3" height="10" fill="#00ff00"/><rect x="625" y="507" width="3" height="8" fill="#00ff00"/><rect x="629" y="507" width="3" height="8" fill="#00ff00"/><rect x="633" y="507" width="3" height="8" fill="#00ff00"/><rect x="637" y="507" width="3" height="7" fill="#00ff00"/><rect x="641" y="507" width="3" height="7" fill="#00ff00"/><rect x="645" y="507" width="3" height="7" fill="#00ff00"/><rect x="649" y="507" width="3" height="6" fill="#00ff00"/><rect x="653" y="507" width="3" height="5" fill="#00ff00"/><rect x="657" y="507" width="3" height="3" fill="#00ff00"/><rect x="661" y="507" width="3" height="1" fill="#00ff00"/><rect x="665" y="506" width="3" height="1" fill="#00ff00"/><rect x="669" y="506" width="3" height="1" fill="#00ff00"/><rect x="673" y="507" width="3" height="1" fill="#00ff00"/><rect x="677" y="507" width="3" height="2" fill="#00ff00"/><rect x="681" y="507" width="3" height="2" fill="#00ff00"/><rect x="685" y="507" width="3" height="5" fill="#00ff00"/><rect x="689" y="507" width="3" height="8" fill="#00ff00"/><rect x="693" y="507" width="3" height="10" fill="#00ff00"/><rect x="697" y="507" width="3" height="13" fill="#00ff00"/><rect x="701" y="507" width="3" height="15" fill="#00ff00"/><rect x="705" y="507" width="3" height="17" fill="#00ff00"/><rect x="709" y="507" width="3" height="17" fill="#00ff00"/><rect x="713" y="507" width="3" height="18" fill="#00ff00"/><rect x="717" y="507" width="3" height="19" fill="#00ff00"/><rect x="721" y="507" width="3" height="18" fill="#00ff00"/><rect x="725" y="507" width="3" height="16" fill="#00ff00"/><rect x="729" y="507" width="3" height="15" fill="#00ff00"/><rect x="733" y="507" width="3" height="15" fill="#00ff00"/><rect x="737" y="507" width="3" height="15" fill="#00ff00"/><rect x="741" y="507" width="3" height="16" fill="#00ff00"/><rect x="745" y="507" width="3" height="16" fill="#00ff00"/><rect x="749" y="507" width="3" height="16" fill="#00ff00"/><rect x="753" y="507" width="3" height="15" fill="#00ff00"/><rect x="757" y="507" width="3" height="13" fill="#00ff00"/><rect x="761" y="507" width="3" height="11" fill="#00ff00"/><rect x="765" y="507" width="3" height="8" fill="#00ff00"/><rect x="769" y="507" width="3" height="5" fill="#00ff00"/><rect x="773" y="507" width="3" height="6" fill="#00ff00"/><rect x="777" y="507" width="3" height="6" fill="#00ff00"/><rect x="781" y="507" width="3" height="6" fill="#00ff00"/><rect x="785" y="507" width="3" height="6" fill="#00ff00"/><rect x="789" y="507" width="3" height="5" fill="#00ff00"/><rect x="793" y="507" width="3" height="4" fill="#00ff00"/><rect x="797" y="507" width="3" height="5" fill="#00ff00"/><rect x="801" y="507" width="3" height="8" fill="#00ff00"/><rect x="805" y="507" width="3" height="10" fill="#00ff00"/><rect x="809" y="507" width="3" height="15" fill="#00ff00"/><rect x="813" y="507" width="3" height="18" fill="#00ff00"/><rect x="817" y="507" width="3" height="22" fill="#00ff00"/><rect x="821" y="507" width="3" height="25" fill="#00ff00"/><rect x="825" y="507" width="3" height="26" fill="#00ff00"/><rect x="829" y="507" width="3" height="23" fill="#00ff00"/><rect x="833" y="507" width="3" height="21" fill="#00ff00"/><rect x="837" y="507" width="3" height="19" fill="#00ff00"/><rect x="841" y="507" width="3" height="17" fill="#00ff00"/><rect x="845" y="507" width="3" height="12" fill="#00ff00"/><rect x="849" y="507" width="3" height="10" fill="#00ff00"/><rect x="853" y="507" width="3" height="10" fill="#00ff00"/><rect x="857" y="507" width="3" height="11" fill="#00ff00"/><rect x="861" y="507" width="3" height="12" fill="#00ff00"/><rect x="865" y="507" width="3" height="13" fill="#00ff00"/><rect x="869" y="507" width="3" height="14" fill="#00ff00"/><rect x="873" y="507" width="3" height="14" fill="#00ff00"/><rect x="877" y="507" width="3" height="13" fill="#00ff00"/><rect x="881" y="507" width="3" height="13" fill="#00ff00"/><rect x="885" y="507" width="3" height="13" fill="#00ff00"/><rect x="889" y="507" width="3" height="10" fill="#00ff00"/><rect x="893" y="507" width="3" height="7" fill="#00ff00"/><rect x="897" y="507" width="3" height="7" fill="#00ff00"/><rect x="901" y="507" width="3" height="7" fill="#00ff00"/><rect x="905" y="507" width="3" height="5" fill="#00ff00"/><rect x="909" y="507" width="3" height="3" fill="#00ff00"/><rect x="913" y="507" width="3" height="1" fill="#00ff00"/><rect x="917" y="505" width="3" height="2" fill="#00ff00"/><rect x="921" y="500" width="3" height="7" fill="#00ff00"/></g>
<polyline points="2.5,510.84 6.5,512.06 10.5,513.06 14.5,513.51 18.5,513.46 22.5,512.87 26.5,511.68 30.5,510.08 34.5,508.18 38.5,506.28 42.5,504.66 46.5,503.26 50.5,502.50 54.5,502.16 58.5,502.13 62.5,502.33 66.5,502.73 70.5,503.32 74.5,504.05 78.5,504.66 82.5,505.30 86.5,506.08 90.5,506.92 94.5,508.01 98.5,509.20 102.5,510.56 106.5,512.05 110.5,513.70 114.5,515.85 118.5,518.41 122.5,521.01 126.5,523.71 130.5,525.87 134.5,527.80 138.5,529.56 142.5,531.09 146.5,532.29 150.5,532.82 154.5,532.60 158.5,531.61 162.5,530.22 166.5,528.93 170.5,527.67 174.5,526.19 178.5,524.64 182.5,523.08 186.5,521.63 190.5,520.42 194.5,519.57 198.5,518.67 202.5,517.56 206.5,516.43 210.5,515.42 214.5,514.45 218.5,513.69 222.5,513.20 226.5,512.93 230.5,512.94 234.5,513.35 238.5,514.22 242.5,515.27 246.5,516.47 250.5,517.63 254.5,518.77 258.5,519.73 262.5,520.53 266.5,521.20 270.5,521.76 274.5,522.11 278.5,522.31 282.5,522.37 286.5,522.44 290.5,522.57 294.5,522.87 298.5,523.49 302.5,524.42 306.5,525.44 310.5,526.74 314.5,528.26 318.5,529.79 322.5,531.15 326.5,532.34 330.5,533.18 334.5,533.59 338.5,533.47 342.5,533.16 346.5,532.67 350.5,532.29 354.5,531.97 358.5,531.92 362.5,531.81 366.5,531.45 370.5,531.02 374.5,530.37 378.5,529.56 382.5,528.54 386.5,526.82 390.5,524.52 394.5,521.88 398.5,518.98 402.5,516.16 406.5,513.28 410.5,510.52 414.5,507.90 418.5,505.65 422.5,503.75 426.5,502.33 430.5,501.17 434.5,500.43 438.5,500.01 442.5,499.80 446.5,500.05 450.5,500.81 454.5,501.82 458.5,503.43 462.5,505.36 466.5,507.50 470.5,509.48 474.5,511.45 478.5,513.46 482.5,515.19 486.5,516.42 490.5,517.12 494.5,517.31 498.5,517.10 502.5,516.58 506.5,516.00 510.5,515.36 514.5,514.86 518.5,514.46 522.5,514.32 526.5,514.41 530.5,514.59 534.5,515.28 538.5,516.60 542.5,518.43 546.5,520.53 550.5,522.64 554.5,525.07 558.5,527.66 562.5,530.35 566.5,533.12 570.5,535.38 574.5,537.03 578.5,538.02 582.5,538.32 586.5,538.16 590.5,537.31 594.5,535.92 598.5,534.13 602.5,531.97 606.5,529.88 610.5,527.75 614.5,525.74 618.5,523.99 622.5,522.35 626.5,520.79 630.5,519.50 634.5,518.45 638.5,517.45 642.5,516.43 646.5,515.61 650.5,514.85 654.5,514.18 658.5,513.38 662.5,512.55 666.5,511.60 670.5,510.56 674.5,509.91 678.5,509.38 682.5,508.92 686.5,508.79 690.5,509.06 694.5,509.84 698.5,511.27 702.5,513.02 706.5,514.97 710.5,516.83 714.5,518.63 718.5,520.45 722.5,521.89 726.5,522.87 730.5,523.45 734.5,523.69 738.5,523.71 742.5,523.67 746.5,523.48 750.5,523.31 754.5,522.85 758.5,522.31 762.5,521.68 766.5,520.94 770.5,519.82 774.5,518.74 778.5,517.60 782.5,516.49 786.5,515.28 790.5,514.19 794.5,513.21 798.5,512.54 802.5,512.48 806.5,513.02 810.5,514.06 814.5,515.45 818.5,517.28 822.5,519.49 826.5,521.79 830.5,523.86 834.5,525.66 838.5,526.92 842.5,527.71 846.5,527.39 850.5,526.40 854.5,525.03 858.5,523.43 862.5,521.94 866.5,520.87 870.5,520.12 874.5,519.59 878.5,519.17 882.5,519.29 886.5,519.62 890.5,519.61 894.5,519.17 898.5,518.62 902.5,517.91 906.5,516.91 910.5,515.66 914.5,514.32 918.5,512.67 922.5,510.54" fill="none" stroke="#ff0000" stroke-width="2" shape-rendering="crispEdges"/>
<text class="b" x="6.4" y="507.6" font-size="9.4" textLength="150" lengthAdjust="spacingAndGlyphs">MACD(12,26,9) 0.002678 -0.001388</text>
<g shape-rendering="crispEdges"><rect x="1165" y="507" width="2" height="1" fill="#000"/><rect x="1165" y="497" width="2" height="1" fill="#000"/><rect x="1165" y="543" width="2" height="1" fill="#000"/><rect x="1165" y="547" width="2" height="1" fill="#000"/><rect x="1165" y="598" width="2" height="1" fill="#000"/></g>
<text class="b" transform="translate(1168,505.8) scale(0.985,1)" font-size="9.4" fill="#000">0.00399</text>
<text class="b" transform="translate(1168,511) scale(0.985,1)" font-size="9.4" fill="#000">0.00</text>
<text class="b" transform="translate(1168,540.9) scale(0.985,1)" font-size="9.4" fill="#000">-0.014693</text>
<!-- RSI -->
<g shape-rendering="crispEdges" fill="#000">
<rect x="3" y="563" width="3" height="1"/><rect x="3" y="583" width="3" height="1"/><rect x="8" y="563" width="3" height="1"/><rect x="8" y="583" width="3" height="1"/><rect x="13" y="563" width="3" height="1"/><rect x="13" y="583" width="3" height="1"/><rect x="18" y="563" width="3" height="1"/><rect x="18" y="583" width="3" height="1"/><rect x="23" y="563" width="3" height="1"/><rect x="23" y="583" width="3" height="1"/><rect x="28" y="563" width="3" height="1"/><rect x="28" y="583" width="3" height="1"/><rect x="33" y="563" width="3" height="1"/><rect x="33" y="583" width="3" height="1"/><rect x="38" y="563" width="3" height="1"/><rect x="38" y="583" width="3" height="1"/><rect x="43" y="563" width="3" height="1"/><rect x="43" y="583" width="3" height="1"/><rect x="48" y="563" width="3" height="1"/><rect x="48" y="583" width="3" height="1"/><rect x="53" y="563" width="3" height="1"/><rect x="53" y="583" width="3" height="1"/><rect x="58" y="563" width="3" height="1"/><rect x="58" y="583" width="3" height="1"/><rect x="63" y="563" width="3" height="1"/><rect x="63" y="583" width="3" height="1"/><rect x="68" y="563" width="3" height="1"/><rect x="68" y="583" width="3" height="1"/><rect x="73" y="563" width="3" height="1"/><rect x="73" y="583" width="3" height="1"/><rect x="78" y="563" width="3" height="1"/><rect x="78" y="583" width="3" height="1"/><rect x="83" y="563" width="3" height="1"/><rect x="83" y="583" width="3" height="1"/><rect x="88" y="563" width="3" height="1"/><rect x="88" y="583" width="3" height="1"/><rect x="93" y="563" width="3" height="1"/><rect x="93" y="583" width="3" height="1"/><rect x="98" y="563" width="3" height="1"/><rect x="98" y="583" width="3" height="1"/><rect x="103" y="563" width="3" height="1"/><rect x="103" y="583" width="3" height="1"/><rect x="108" y="563" width="3" height="1"/><rect x="108" y="583" width="3" height="1"/><rect x="113" y="563" width="3" height="1"/><rect x="113" y="583" width="3" height="1"/><rect x="118" y="563" width="3" height="1"/><rect x="118" y="583" width="3" height="1"/><rect x="123" y="563" width="3" height="1"/><rect x="123" y="583" width="3" height="1"/><rect x="128" y="563" width="3" height="1"/><rect x="128" y="583" width="3" height="1"/><rect x="133" y="563" width="3" height="1"/><rect x="133" y="583" width="3" height="1"/><rect x="138" y="563" width="3" height="1"/><rect x="138" y="583" width="3" height="1"/><rect x="143" y="563" width="3" height="1"/><rect x="143" y="583" width="3" height="1"/><rect x="148" y="563" width="3" height="1"/><rect x="148" y="583" width="3" height="1"/><rect x="153" y="563" width="3" height="1"/><rect x="153" y="583" width="3" height="1"/><rect x="158" y="563" width="3" height="1"/><rect x="158" y="583" width="3" height="1"/><rect x="163" y="563" width="3" height="1"/><rect x="163" y="583" width="3" height="1"/><rect x="168" y="563" width="3" height="1"/><rect x="168" y="583" width="3" height="1"/><rect x="173" y="563" width="3" height="1"/><rect x="173" y="583" width="3" height="1"/><rect x="178" y="563" width="3" height="1"/><rect x="178" y="583" width="3" height="1"/><rect x="183" y="563" width="3" height="1"/><rect x="183" y="583" width="3" height="1"/><rect x="188" y="563" width="3" height="1"/><rect x="188" y="583" width="3" height="1"/><rect x="193" y="563" width="3" height="1"/><rect x="193" y="583" width="3" height="1"/><rect x="198" y="563" width="3" height="1"/><rect x="198" y="583" width="3" height="1"/><rect x="203" y="563" width="3" height="1"/><rect x="203" y="583" width="3" height="1"/><rect x="208" y="563" width="3" height="1"/><rect x="208" y="583" width="3" height="1"/><rect x="213" y="563" width="3" height="1"/><rect x="213" y="583" width="3" height="1"/><rect x="218" y="563" width="3" height="1"/><rect x="218" y="583" width="3" height="1"/><rect x="223" y="563" width="3" height="1"/><rect x="223" y="583" width="3" height="1"/><rect x="228" y="563" width="3" height="1"/><rect x="228" y="583" width="3" height="1"/><rect x="233" y="563" width="3" height="1"/><rect x="233" y="583" width="3" height="1"/><rect x="238" y="563" width="3" height="1"/><rect x="238" y="583" width="3" height="1"/><rect x="243" y="563" width="3" height="1"/><rect x="243" y="583" width="3" height="1"/><rect x="248" y="563" width="3" height="1"/><rect x="248" y="583" width="3" height="1"/><rect x="253" y="563" width="3" height="1"/><rect x="253" y="583" width="3" height="1"/><rect x="258" y="563" width="3" height="1"/><rect x="258" y="583" width="3" height="1"/><rect x="263" y="563" width="3" height="1"/><rect x="263" y="583" width="3" height="1"/><rect x="268" y="563" width="3" height="1"/><rect x="268" y="583" width="3" height="1"/><rect x="273" y="563" width="3" height="1"/><rect x="273" y="583" width="3" height="1"/><rect x="278" y="563" width="3" height="1"/><rect x="278" y="583" width="3" height="1"/><rect x="283" y="563" width="3" height="1"/><rect x="283" y="583" width="3" height="1"/><rect x="288" y="563" width="3" height="1"/><rect x="288" y="583" width="3" height="1"/><rect x="293" y="563" width="3" height="1"/><rect x="293" y="583" width="3" height="1"/><rect x="298" y="563" width="3" height="1"/><rect x="298" y="583" width="3" height="1"/><rect x="303" y="563" width="3" height="1"/><rect x="303" y="583" width="3" height="1"/><rect x="308" y="563" width="3" height="1"/><rect x="308" y="583" width="3" height="1"/><rect x="313" y="563" width="3" height="1"/><rect x="313" y="583" width="3" height="1"/><rect x="318" y="563" width="3" height="1"/><rect x="318" y="583" width="3" height="1"/><rect x="323" y="563" width="3" height="1"/><rect x="323" y="583" width="3" height="1"/><rect x="328" y="563" width="3" height="1"/><rect x="328" y="583" width="3" height="1"/><rect x="333" y="563" width="3" height="1"/><rect x="333" y="583" width="3" height="1"/><rect x="338" y="563" width="3" height="1"/><rect x="338" y="583" width="3" height="1"/><rect x="343" y="563" width="3" height="1"/><rect x="343" y="583" width="3" height="1"/><rect x="348" y="563" width="3" height="1"/><rect x="348" y="583" width="3" height="1"/><rect x="353" y="563" width="3" height="1"/><rect x="353" y="583" width="3" height="1"/><rect x="358" y="563" width="3" height="1"/><rect x="358" y="583" width="3" height="1"/><rect x="363" y="563" width="3" height="1"/><rect x="363" y="583" width="3" height="1"/><rect x="368" y="563" width="3" height="1"/><rect x="368" y="583" width="3" height="1"/><rect x="373" y="563" width="3" height="1"/><rect x="373" y="583" width="3" height="1"/><rect x="378" y="563" width="3" height="1"/><rect x="378" y="583" width="3" height="1"/><rect x="383" y="563" width="3" height="1"/><rect x="383" y="583" width="3" height="1"/><rect x="388" y="563" width="3" height="1"/><rect x="388" y="583" width="3" height="1"/><rect x="393" y="563" width="3" height="1"/><rect x="393" y="583" width="3" height="1"/><rect x="398" y="563" width="3" height="1"/><rect x="398" y="583" width="3" height="1"/><rect x="403" y="563" width="3" height="1"/><rect x="403" y="583" width="3" height="1"/><rect x="408" y="563" width="3" height="1"/><rect x="408" y="583" width="3" height="1"/><rect x="413" y="563" width="3" height="1"/><rect x="413" y="583" width="3" height="1"/><rect x="418" y="563" width="3" height="1"/><rect x="418" y="583" width="3" height="1"/><rect x="423" y="563" width="3" height="1"/><rect x="423" y="583" width="3" height="1"/><rect x="428" y="563" width="3" height="1"/><rect x="428" y="583" width="3" height="1"/><rect x="433" y="563" width="3" height="1"/><rect x="433" y="583" width="3" height="1"/><rect x="438" y="563" width="3" height="1"/><rect x="438" y="583" width="3" height="1"/><rect x="443" y="563" width="3" height="1"/><rect x="443" y="583" width="3" height="1"/><rect x="448" y="563" width="3" height="1"/><rect x="448" y="583" width="3" height="1"/><rect x="453" y="563" width="3" height="1"/><rect x="453" y="583" width="3" height="1"/><rect x="458" y="563" width="3" height="1"/><rect x="458" y="583" width="3" height="1"/><rect x="463" y="563" width="3" height="1"/><rect x="463" y="583" width="3" height="1"/><rect x="468" y="563" width="3" height="1"/><rect x="468" y="583" width="3" height="1"/><rect x="473" y="563" width="3" height="1"/><rect x="473" y="583" width="3" height="1"/><rect x="478" y="563" width="3" height="1"/><rect x="478" y="583" width="3" height="1"/><rect x="483" y="563" width="3" height="1"/><rect x="483" y="583" width="3" height="1"/><rect x="488" y="563" width="3" height="1"/><rect x="488" y="583" width="3" height="1"/><rect x="493" y="563" width="3" height="1"/><rect x="493" y="583" width="3" height="1"/><rect x="498" y="563" width="3" height="1"/><rect x="498" y="583" width="3" height="1"/><rect x="503" y="563" width="3" height="1"/><rect x="503" y="583" width="3" height="1"/><rect x="508" y="563" width="3" height="1"/><rect x="508" y="583" width="3" height="1"/><rect x="513" y="563" width="3" height="1"/><rect x="513" y="583" width="3" height="1"/><rect x="518" y="563" width="3" height="1"/><rect x="518" y="583" width="3" height="1"/><rect x="523" y="563" width="3" height="1"/><rect x="523" y="583" width="3" height="1"/><rect x="528" y="563" width="3" height="1"/><rect x="528" y="583" width="3" height="1"/><rect x="533" y="563" width="3" height="1"/><rect x="533" y="583" width="3" height="1"/><rect x="538" y="563" width="3" height="1"/><rect x="538" y="583" width="3" height="1"/><rect x="543" y="563" width="3" height="1"/><rect x="543" y="583" width="3" height="1"/><rect x="548" y="563" width="3" height="1"/><rect x="548" y="583" width="3" height="1"/><rect x="553" y="563" width="3" height="1"/><rect x="553" y="583" width="3" height="1"/><rect x="558" y="563" width="3" height="1"/><rect x="558" y="583" width="3" height="1"/><rect x="563" y="563" width="3" height="1"/><rect x="563" y="583" width="3" height="1"/><rect x="568" y="563" width="3" height="1"/><rect x="568" y="583" width="3" height="1"/><rect x="573" y="563" width="3" height="1"/><rect x="573" y="583" width="3" height="1"/><rect x="578" y="563" width="3" height="1"/><rect x="578" y="583" width="3" height="1"/><rect x="583" y="563" width="3" height="1"/><rect x="583" y="583" width="3" height="1"/><rect x="588" y="563" width="3" height="1"/><rect x="588" y="583" width="3" height="1"/><rect x="593" y="563" width="3" height="1"/><rect x="593" y="583" width="3" height="1"/><rect x="598" y="563" width="3" height="1"/><rect x="598" y="583" width="3" height="1"/><rect x="603" y="563" width="3" height="1"/><rect x="603" y="583" width="3" height="1"/><rect x="608" y="563" width="3" height="1"/><rect x="608" y="583" width="3" height="1"/><rect x="613" y="563" width="3" height="1"/><rect x="613" y="583" width="3" height="1"/><rect x="618" y="563" width="3" height="1"/><rect x="618" y="583" width="3" height="1"/><rect x="623" y="563" width="3" height="1"/><rect x="623" y="583" width="3" height="1"/><rect x="628" y="563" width="3" height="1"/><rect x="628" y="583" width="3" height="1"/><rect x="633" y="563" width="3" height="1"/><rect x="633" y="583" width="3" height="1"/><rect x="638" y="563" width="3" height="1"/><rect x="638" y="583" width="3" height="1"/><rect x="643" y="563" width="3" height="1"/><rect x="643" y="583" width="3" height="1"/><rect x="648" y="563" width="3" height="1"/><rect x="648" y="583" width="3" height="1"/><rect x="653" y="563" width="3" height="1"/><rect x="653" y="583" width="3" height="1"/><rect x="658" y="563" width="3" height="1"/><rect x="658" y="583" width="3" height="1"/><rect x="663" y="563" width="3" height="1"/><rect x="663" y="583" width="3" height="1"/><rect x="668" y="563" width="3" height="1"/><rect x="668" y="583" width="3" height="1"/><rect x="673" y="563" width="3" height="1"/><rect x="673" y="583" width="3" height="1"/><rect x="678" y="563" width="3" height="1"/><rect x="678" y="583" width="3" height="1"/><rect x="683" y="563" width="3" height="1"/><rect x="683" y="583" width="3" height="1"/><rect x="688" y="563" width="3" height="1"/><rect x="688" y="583" width="3" height="1"/><rect x="693" y="563" width="3" height="1"/><rect x="693" y="583" width="3" height="1"/><rect x="698" y="563" width="3" height="1"/><rect x="698" y="583" width="3" height="1"/><rect x="703" y="563" width="3" height="1"/><rect x="703" y="583" width="3" height="1"/><rect x="708" y="563" width="3" height="1"/><rect x="708" y="583" width="3" height="1"/><rect x="713" y="563" width="3" height="1"/><rect x="713" y="583" width="3" height="1"/><rect x="718" y="563" width="3" height="1"/><rect x="718" y="583" width="3" height="1"/><rect x="723" y="563" width="3" height="1"/><rect x="723" y="583" width="3" height="1"/><rect x="728" y="563" width="3" height="1"/><rect x="728" y="583" width="3" height="1"/><rect x="733" y="563" width="3" height="1"/><rect x="733" y="583" width="3" height="1"/><rect x="738" y="563" width="3" height="1"/><rect x="738" y="583" width="3" height="1"/><rect x="743" y="563" width="3" height="1"/><rect x="743" y="583" width="3" height="1"/><rect x="748" y="563" width="3" height="1"/><rect x="748" y="583" width="3" height="1"/><rect x="753" y="563" width="3" height="1"/><rect x="753" y="583" width="3" height="1"/><rect x="758" y="563" width="3" height="1"/><rect x="758" y="583" width="3" height="1"/><rect x="763" y="563" width="3" height="1"/><rect x="763" y="583" width="3" height="1"/><rect x="768" y="563" width="3" height="1"/><rect x="768" y="583" width="3" height="1"/><rect x="773" y="563" width="3" height="1"/><rect x="773" y="583" width="3" height="1"/><rect x="778" y="563" width="3" height="1"/><rect x="778" y="583" width="3" height="1"/><rect x="783" y="563" width="3" height="1"/><rect x="783" y="583" width="3" height="1"/><rect x="788" y="563" width="3" height="1"/><rect x="788" y="583" width="3" height="1"/><rect x="793" y="563" width="3" height="1"/><rect x="793" y="583" width="3" height="1"/><rect x="798" y="563" width="3" height="1"/><rect x="798" y="583" width="3" height="1"/><rect x="803" y="563" width="3" height="1"/><rect x="803" y="583" width="3" height="1"/><rect x="808" y="563" width="3" height="1"/><rect x="808" y="583" width="3" height="1"/><rect x="813" y="563" width="3" height="1"/><rect x="813" y="583" width="3" height="1"/><rect x="818" y="563" width="3" height="1"/><rect x="818" y="583" width="3" height="1"/><rect x="823" y="563" width="3" height="1"/><rect x="823" y="583" width="3" height="1"/><rect x="828" y="563" width="3" height="1"/><rect x="828" y="583" width="3" height="1"/><rect x="833" y="563" width="3" height="1"/><rect x="833" y="583" width="3" height="1"/><rect x="838" y="563" width="3" height="1"/><rect x="838" y="583" width="3" height="1"/><rect x="843" y="563" width="3" height="1"/><rect x="843" y="583" width="3" height="1"/><rect x="848" y="563" width="3" height="1"/><rect x="848" y="583" width="3" height="1"/><rect x="853" y="563" width="3" height="1"/><rect x="853" y="583" width="3" height="1"/><rect x="858" y="563" width="3" height="1"/><rect x="858" y="583" width="3" height="1"/><rect x="863" y="563" width="3" height="1"/><rect x="863" y="583" width="3" height="1"/><rect x="868" y="563" width="3" height="1"/><rect x="868" y="583" width="3" height="1"/><rect x="873" y="563" width="3" height="1"/><rect x="873" y="583" width="3" height="1"/><rect x="878" y="563" width="3" height="1"/><rect x="878" y="583" width="3" height="1"/><rect x="883" y="563" width="3" height="1"/><rect x="883" y="583" width="3" height="1"/><rect x="888" y="563" width="3" height="1"/><rect x="888" y="583" width="3" height="1"/><rect x="893" y="563" width="3" height="1"/><rect x="893" y="583" width="3" height="1"/><rect x="898" y="563" width="3" height="1"/><rect x="898" y="583" width="3" height="1"/><rect x="903" y="563" width="3" height="1"/><rect x="903" y="583" width="3" height="1"/><rect x="908" y="563" width="3" height="1"/><rect x="908" y="583" width="3" height="1"/><rect x="913" y="563" width="3" height="1"/><rect x="913" y="583" width="3" height="1"/><rect x="918" y="563" width="3" height="1"/><rect x="918" y="583" width="3" height="1"/><rect x="923" y="563" width="3" height="1"/><rect x="923" y="583" width="3" height="1"/><rect x="928" y="563" width="3" height="1"/><rect x="928" y="583" width="3" height="1"/><rect x="933" y="563" width="3" height="1"/><rect x="933" y="583" width="3" height="1"/><rect x="938" y="563" width="3" height="1"/><rect x="938" y="583" width="3" height="1"/><rect x="943" y="563" width="3" height="1"/><rect x="943" y="583" width="3" height="1"/><rect x="948" y="563" width="3" height="1"/><rect x="948" y="583" width="3" height="1"/><rect x="953" y="563" width="3" height="1"/><rect x="953" y="583" width="3" height="1"/><rect x="958" y="563" width="3" height="1"/><rect x="958" y="583" width="3" height="1"/><rect x="963" y="563" width="3" height="1"/><rect x="963" y="583" width="3" height="1"/><rect x="968" y="563" width="3" height="1"/><rect x="968" y="583" width="3" height="1"/><rect x="973" y="563" width="3" height="1"/><rect x="973" y="583" width="3" height="1"/><rect x="978" y="563" width="3" height="1"/><rect x="978" y="583" width="3" height="1"/><rect x="983" y="563" width="3" height="1"/><rect x="983" y="583" width="3" height="1"/><rect x="988" y="563" width="3" height="1"/><rect x="988" y="583" width="3" height="1"/><rect x="993" y="563" width="3" height="1"/><rect x="993" y="583" width="3" height="1"/><rect x="998" y="563" width="3" height="1"/><rect x="998" y="583" width="3" height="1"/><rect x="1003" y="563" width="3" height="1"/><rect x="1003" y="583" width="3" height="1"/><rect x="1008" y="563" width="3" height="1"/><rect x="1008" y="583" width="3" height="1"/><rect x="1013" y="563" width="3" height="1"/><rect x="1013" y="583" width="3" height="1"/><rect x="1018" y="563" width="3" height="1"/><rect x="1018" y="583" width="3" height="1"/><rect x="1023" y="563" width="3" height="1"/><rect x="1023" y="583" width="3" height="1"/><rect x="1028" y="563" width="3" height="1"/><rect x="1028" y="583" width="3" height="1"/><rect x="1033" y="563" width="3" height="1"/><rect x="1033" y="583" width="3" height="1"/><rect x="1038" y="563" width="3" height="1"/><rect x="1038" y="583" width="3" height="1"/><rect x="1043" y="563" width="3" height="1"/><rect x="1043" y="583" width="3" height="1"/><rect x="1048" y="563" width="3" height="1"/><rect x="1048" y="583" width="3" height="1"/><rect x="1053" y="563" width="3" height="1"/><rect x="1053" y="583" width="3" height="1"/><rect x="1058" y="563" width="3" height="1"/><rect x="1058" y="583" width="3" height="1"/><rect x="1063" y="563" width="3" height="1"/><rect x="1063" y="583" width="3" height="1"/><rect x="1068" y="563" width="3" height="1"/><rect x="1068" y="583" width="3" height="1"/><rect x="1073" y="563" width="3" height="1"/><rect x="1073" y="583" width="3" height="1"/><rect x="1078" y="563" width="3" height="1"/><rect x="1078" y="583" width="3" height="1"/><rect x="1083" y="563" width="3" height="1"/><rect x="1083" y="583" width="3" height="1"/><rect x="1088" y="563" width="3" height="1"/><rect x="1088" y="583" width="3" height="1"/><rect x="1093" y="563" width="3" height="1"/><rect x="1093" y="583" width="3" height="1"/><rect x="1098" y="563" width="3" height="1"/><rect x="1098" y="583" width="3" height="1"/><rect x="1103" y="563" width="3" height="1"/><rect x="1103" y="583" width="3" height="1"/><rect x="1108" y="563" width="3" height="1"/><rect x="1108" y="583" width="3" height="1"/><rect x="1113" y="563" width="3" height="1"/><rect x="1113" y="583" width="3" height="1"/><rect x="1118" y="563" width="3" height="1"/><rect x="1118" y="583" width="3" height="1"/><rect x="1123" y="563" width="3" height="1"/><rect x="1123" y="583" width="3" height="1"/><rect x="1128" y="563" width="3" height="1"/><rect x="1128" y="583" width="3" height="1"/><rect x="1133" y="563" width="3" height="1"/><rect x="1133" y="583" width="3" height="1"/><rect x="1138" y="563" width="3" height="1"/><rect x="1138" y="583" width="3" height="1"/><rect x="1143" y="563" width="3" height="1"/><rect x="1143" y="583" width="3" height="1"/><rect x="1148" y="563" width="3" height="1"/><rect x="1148" y="583" width="3" height="1"/><rect x="1153" y="563" width="3" height="1"/><rect x="1153" y="583" width="3" height="1"/><rect x="1158" y="563" width="3" height="1"/><rect x="1158" y="583" width="3" height="1"/><rect x="1163" y="563" width="3" height="1"/><rect x="1163" y="583" width="3" height="1"/>
</g>
<polyline points="2.5,576.49 6.5,574.36 10.5,572.62 14.5,566.73 18.5,566.43 22.5,566.19 26.5,566.91 30.5,568.65 34.5,568.54 38.5,569.01 42.5,573.94 46.5,571.99 50.5,575.01 54.5,572.42 58.5,571.54 62.5,572.04 66.5,574.02 70.5,574.73 74.5,575.22 78.5,573.77 82.5,575.08 86.5,580.51 90.5,576.06 94.5,579.17 98.5,577.47 102.5,580.17 106.5,580.78 110.5,582.08 114.5,585.57 118.5,586.22 122.5,586.38 126.5,584.48 130.5,576.14 134.5,577.80 138.5,580.35 142.5,579.51 146.5,579.03 150.5,578.04 154.5,575.50 158.5,572.66 162.5,574.43 166.5,574.66 170.5,575.75 174.5,575.07 178.5,575.90 182.5,575.74 186.5,576.59 190.5,576.86 194.5,576.21 198.5,571.16 202.5,568.37 206.5,572.60 210.5,574.12 214.5,573.73 218.5,576.42 222.5,578.72 226.5,578.93 230.5,580.00 234.5,578.88 238.5,578.88 242.5,579.22 246.5,581.07 250.5,576.82 254.5,579.47 258.5,579.84 262.5,579.70 266.5,580.88 270.5,579.85 274.5,576.53 278.5,577.11 282.5,579.15 286.5,577.73 290.5,581.19 294.5,583.31 298.5,585.25 302.5,586.33 306.5,582.41 310.5,583.28 314.5,583.81 318.5,582.99 322.5,577.88 326.5,580.27 330.5,579.82 334.5,580.15 338.5,578.57 342.5,579.76 346.5,580.34 350.5,583.87 354.5,582.34 358.5,582.56 362.5,580.18 366.5,574.91 370.5,577.38 374.5,573.23 378.5,574.36 382.5,573.47 386.5,569.71 390.5,568.25 394.5,570.05 398.5,568.68 402.5,568.72 406.5,568.80 410.5,567.40 414.5,569.22 418.5,572.89 422.5,569.45 426.5,570.56 430.5,570.40 434.5,572.08 438.5,571.90 442.5,570.89 446.5,575.08 450.5,578.24 454.5,579.18 458.5,581.28 462.5,579.95 466.5,579.07 470.5,575.06 474.5,576.90 478.5,576.99 482.5,575.71 486.5,574.86 490.5,573.49 494.5,575.38 498.5,574.07 502.5,573.17 506.5,572.55 510.5,575.13 514.5,578.09 518.5,576.47 522.5,578.46 526.5,577.92 530.5,577.84 534.5,583.27 538.5,584.90 542.5,585.17 546.5,585.00 550.5,585.00 554.5,587.51 558.5,587.79 562.5,587.64 566.5,587.79 570.5,583.83 574.5,582.72 578.5,579.54 582.5,575.04 586.5,576.92 590.5,575.20 594.5,576.09 598.5,575.81 602.5,574.61 606.5,578.45 610.5,574.65 614.5,575.21 618.5,573.88 622.5,574.20 626.5,571.75 630.5,576.24 634.5,576.34 638.5,572.26 642.5,574.96 646.5,575.13 650.5,574.01 654.5,573.42 658.5,569.65 662.5,568.82 666.5,571.48 670.5,571.93 674.5,576.05 678.5,575.60 682.5,575.11 686.5,578.51 690.5,580.23 694.5,580.03 698.5,582.78 702.5,581.28 706.5,581.28 710.5,581.12 714.5,581.12 718.5,582.30 722.5,577.31 726.5,576.56 730.5,575.80 734.5,579.35 738.5,578.99 742.5,580.84 746.5,578.20 750.5,580.10 754.5,574.76 758.5,574.15 762.5,572.69 766.5,571.48 770.5,569.07 774.5,575.42 778.5,575.25 782.5,575.00 786.5,574.33 790.5,573.38 794.5,573.11 798.5,575.80 802.5,580.69 806.5,580.17 810.5,584.30 814.5,583.56 818.5,584.96 822.5,585.36 826.5,579.83 830.5,574.87 834.5,575.60 838.5,575.93 842.5,574.56 846.5,569.58 850.5,572.09 854.5,575.68 858.5,576.94 862.5,577.09 866.5,577.68 870.5,577.91 874.5,577.80 878.5,575.08 882.5,576.54 886.5,575.75 890.5,571.75 894.5,571.17 898.5,574.81 902.5,574.28 906.5,571.74 910.5,571.30 914.5,570.36 918.5,568.02 922.5,564.62" fill="none" stroke="#1e90ff" stroke-width="2" shape-rendering="crispEdges"/>
<text class="b" x="6.2" y="558.5" font-size="9.4" textLength="67.6" lengthAdjust="spacingAndGlyphs">RSI(14) 66.8248</text>
<text class="b" transform="translate(1168,557) scale(0.985,1)" font-size="9.4" fill="#000">100</text>
<text class="b" transform="translate(1168,567) scale(0.985,1)" font-size="9.4" fill="#000">70</text>
<text class="b" transform="translate(1168,587) scale(0.985,1)" font-size="9.4" fill="#000">30</text>
<text class="b" transform="translate(1168,596) scale(0.985,1)" font-size="9.4" fill="#000">0</text>
<!-- date axis -->
<g shape-rendering="crispEdges"><rect x="2" y="600" width="1" height="3" fill="#000"/><rect x="66" y="600" width="1" height="3" fill="#000"/><rect x="130" y="600" width="1" height="3" fill="#000"/><rect x="194" y="600" width="1" height="3" fill="#000"/><rect x="258" y="600" width="1" height="3" fill="#000"/><rect x="322" y="600" width="1" height="3" fill="#000"/><rect x="386" y="600" width="1" height="3" fill="#000"/><rect x="450" y="600" width="1" height="3" fill="#000"/><rect x="514" y="600" width="1" height="3" fill="#000"/><rect x="578" y="600" width="1" height="3" fill="#000"/><rect x="642" y="600" width="1" height="3" fill="#000"/><rect x="706" y="600" width="1" height="3" fill="#000"/><rect x="770" y="600" width="1" height="3" fill="#000"/><rect x="834" y="600" width="1" height="3" fill="#000"/><rect x="898" y="600" width="1" height="3" fill="#000"/></g>
<text class="b" transform="translate(1,612) scale(0.985,1)" font-size="9.4" fill="#000">31 Jan 2022</text><text class="b" transform="translate(65,612) scale(0.985,1)" font-size="9.4" fill="#000">18 Feb 2022</text><text class="b" transform="translate(129,612) scale(0.985,1)" font-size="9.4" fill="#000">9 Mar 2022</text><text class="b" transform="translate(193,612) scale(0.985,1)" font-size="9.4" fill="#000">28 Mar 2022</text><text class="b" transform="translate(257,612) scale(0.985,1)" font-size="9.4" fill="#000">15 Apr 2022</text><text class="b" transform="translate(321,612) scale(0.985,1)" font-size="9.4" fill="#000">4 May 2022</text><text class="b" transform="translate(385,612) scale(0.985,1)" font-size="9.4" fill="#000">23 May 2022</text><text class="b" transform="translate(449,612) scale(0.985,1)" font-size="9.4" fill="#000">10 Jun 2022</text><text class="b" transform="translate(513,612) scale(0.985,1)" font-size="9.4" fill="#000">29 Jun 2022</text><text class="b" transform="translate(577,612) scale(0.985,1)" font-size="9.4" fill="#000">18 Jul 2022</text><text class="b" transform="translate(641,612) scale(0.985,1)" font-size="9.4" fill="#000">5 Aug 2022</text><text class="b" transform="translate(705,612) scale(0.985,1)" font-size="9.4" fill="#000">24 Aug 2022</text><text class="b" transform="translate(769,612) scale(0.985,1)" font-size="9.4" fill="#000">12 Sep 2022</text><text class="b" transform="translate(833,612) scale(0.985,1)" font-size="9.4" fill="#000">30 Sep 2022</text><text class="b" transform="translate(897,612) scale(0.985,1)" font-size="9.4" fill="#000">19 Oct 2022</text>
<!-- tab bar -->
<g shape-rendering="crispEdges">
<rect x="0" y="620" width="1206" height="1" fill="#e3e3e3"/>
<rect x="0" y="622" width="1206" height="21" fill="#f0f0f0"/>
<rect x="0" y="622" width="1206" height="1" fill="#000"/>
<rect x="0" y="643" width="1206" height="1" fill="#fff"/>
<rect x="0" y="644" width="1206" height="1" fill="#f0f0f0"/>
<rect x="92" y="622" width="106" height="18" fill="#fff"/>
<rect x="91" y="622" width="1" height="19" fill="#000"/>
<rect x="198" y="622" width="1" height="19" fill="#000"/>
<rect x="91" y="640" width="108" height="1" fill="#000"/>
</g>
<text x="14.7" y="636.6" font-size="12" fill="#777" textLength="63.9" lengthAdjust="spacingAndGlyphs">USDX,Daily</text><text x="101.8" y="636.6" font-size="12" fill="#000" textLength="85.2" lengthAdjust="spacingAndGlyphs">EURUSD-,Daily</text><text x="208.5" y="636.6" font-size="12" fill="#777" textLength="87.5" lengthAdjust="spacingAndGlyphs">AUDUSD-,Daily</text><text x="318.9" y="636.6" font-size="12" fill="#777" textLength="84.2" lengthAdjust="spacingAndGlyphs">USDCHF-,Daily</text><text x="425.8" y="636.6" font-size="12" fill="#777" textLength="86.0" lengthAdjust="spacingAndGlyphs">USDCAD-,Daily</text><text x="535.3" y="636.6" font-size="12" fill="#777" textLength="87.8" lengthAdjust="spacingAndGlyphs">USDCNH-,Daily</text><text x="644.9" y="636.6" font-size="12" fill="#777" textLength="54.6" lengthAdjust="spacingAndGlyphs">HK50-,H1</text><text x="720.6" y="636.6" font-size="12" fill="#777" textLength="71.1" lengthAdjust="spacingAndGlyphs">EURCHF-,H1</text><text x="814.6" y="636.6" font-size="12" fill="#777" textLength="68.4" lengthAdjust="spacingAndGlyphs">USOil-,Daily</text><text x="905.9" y="636.6" font-size="12" fill="#777" textLength="57.4" lengthAdjust="spacingAndGlyphs">UKOil-,H4</text><text x="985.3" y="636.6" font-size="12" fill="#777" textLength="86.6" lengthAdjust="spacingAndGlyphs">XAUUSD-,Daily</text><text x="1093.8" y="636.6" font-size="12" fill="#777" textLength="68.9" lengthAdjust="spacingAndGlyphs">UKOil-,Daily</text><rect x="307" y="625" width="1" height="13" fill="#777"/><rect x="415" y="625" width="1" height="13" fill="#777"/><rect x="523" y="625" width="1" height="13" fill="#777"/><rect x="635" y="625" width="1" height="13" fill="#777"/><rect x="711" y="625" width="1" height="13" fill="#777"/><rect x="803" y="625" width="1" height="13" fill="#777"/><rect x="895" y="625" width="1" height="13" fill="#777"/><rect x="975" y="625" width="1" height="13" fill="#777"/><rect x="1083" y="625" width="1" height="13" fill="#777"/>
<polygon points="1184,628 1184,634 1180,631" fill="#8a8a8a"/>
<polygon points="1198.5,628 1198.5,634 1202.5,631" fill="#8a8a8a"/>
</svg>
</body></html>
